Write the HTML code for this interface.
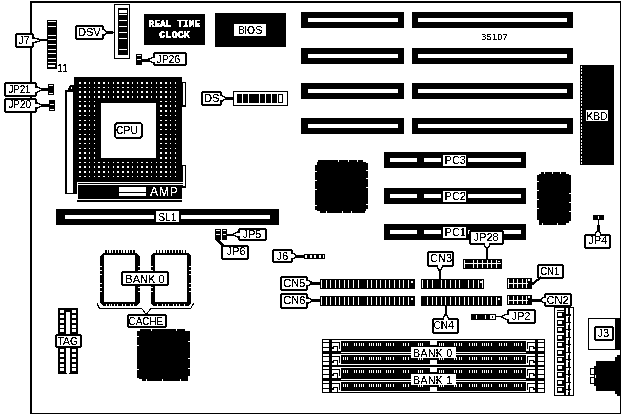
<!DOCTYPE html>
<html><head><meta charset="utf-8"><title>35107</title>
<style>
html,body{margin:0;padding:0;background:#fff;}
body{width:622px;height:415px;overflow:hidden;}
svg{display:block;font-family:"Liberation Sans",sans-serif;}
</style></head><body>
<svg width="622" height="415" viewBox="0 0 622 415" shape-rendering="crispEdges" >
<defs><filter id="t" filterUnits="userSpaceOnUse" x="0" y="0" width="622" height="415" color-interpolation-filters="sRGB"><feComponentTransfer><feFuncA type="discrete" tableValues="0 0 0 0 0 0 0 0 1 1 1 1 1 1 1 1 1 1 1 1"/></feComponentTransfer></filter><filter id="t2" filterUnits="userSpaceOnUse" x="0" y="0" width="622" height="415" color-interpolation-filters="sRGB"><feComponentTransfer><feFuncA type="discrete" tableValues="0 0 0 0 0 0 0 0 1 1 1 1 1 1 1 1 1 1 1 1"/></feComponentTransfer></filter></defs>
<rect x="30.00" y="1.00" width="591.00" height="413.00" fill="#000" />
<rect x="32.00" y="3.00" width="588.00" height="410.00" fill="#fff" />
<rect x="47.00" y="20.00" width="9.50" height="48.50" fill="#000" />
<rect x="48.20" y="21.00" width="7.30" height="1.00" fill="#fff" />
<rect x="48.20" y="25.60" width="7.30" height="1.00" fill="#fff" />
<rect x="48.20" y="34.80" width="7.30" height="1.00" fill="#fff" />
<rect x="48.20" y="39.40" width="7.30" height="1.00" fill="#fff" />
<rect x="48.20" y="44.00" width="7.30" height="1.00" fill="#fff" />
<rect x="48.20" y="48.60" width="7.30" height="1.00" fill="#fff" />
<rect x="48.20" y="53.20" width="7.30" height="1.00" fill="#fff" />
<rect x="48.20" y="57.80" width="7.30" height="1.00" fill="#fff" />
<rect x="48.20" y="62.40" width="7.30" height="1.00" fill="#fff" />
<rect x="48.30" y="64.60" width="7.00" height="2.60" fill="#fff" />
<rect x="48.30" y="65.60" width="4.70" height="0.60" fill="#000" />
<text x="57.50" y="72.00" font-size="10.5" text-anchor="start" fill="#000" textLength="10.00" lengthAdjust="spacingAndGlyphs" filter="url(#t2)" >11</text>
<rect x="15" y="33" width="19" height="15" rx="3" fill="#000"/>
<rect x="17" y="35" width="15" height="11" rx="1" fill="#fff"/>
<text x="18.25" y="44.00" font-size="11.1" text-anchor="start" fill="#000" filter="url(#t)" >J7</text>
<rect x="31.80" y="38.70" width="2.40" height="3.00" fill="#fff" />
<polyline points="33.40,38.00 34.40,38.00 41.00,39.80 41.00,40.60 34.40,42.40 33.40,42.40" fill="#fff" stroke="#000" stroke-width="1.4" stroke-linejoin="miter"/>
<line x1="39.80" y1="40.20" x2="47.50" y2="40.20" stroke="#000" stroke-width="1.7"/>
<rect x="4" y="82" width="33" height="15" rx="3" fill="#000"/>
<rect x="6" y="84" width="29" height="11" rx="1" fill="#fff"/>
<text x="8.40" y="93.00" font-size="11.1" text-anchor="start" fill="#000" textLength="22.00" lengthAdjust="spacingAndGlyphs" filter="url(#t2)" >JP21</text>
<rect x="4" y="98" width="33" height="15" rx="3" fill="#000"/>
<rect x="6" y="100" width="29" height="11" rx="1" fill="#fff"/>
<text x="8.40" y="108.00" font-size="11.1" text-anchor="start" fill="#000" textLength="22.50" lengthAdjust="spacingAndGlyphs" filter="url(#t2)" >JP20</text>
<rect x="34.80" y="87.70" width="2.40" height="3.80" fill="#fff" />
<polyline points="36.40,87.00 37.40,87.00 42.00,89.20 42.00,90.00 37.40,92.20 36.40,92.20" fill="#fff" stroke="#000" stroke-width="1.4" stroke-linejoin="miter"/>
<line x1="40.80" y1="89.60" x2="49.00" y2="89.60" stroke="#000" stroke-width="2.4"/>
<rect x="34.80" y="103.50" width="2.40" height="3.80" fill="#fff" />
<polyline points="36.40,102.80 37.40,102.80 42.00,105.00 42.00,105.80 37.40,108.00 36.40,108.00" fill="#fff" stroke="#000" stroke-width="1.4" stroke-linejoin="miter"/>
<line x1="40.80" y1="105.40" x2="50.00" y2="105.40" stroke="#000" stroke-width="2.4"/>
<rect x="48.00" y="84.00" width="6.00" height="11.40" fill="#000" />
<rect x="49.00" y="85.00" width="4.00" height="1.00" fill="#fff" />
<rect x="49.00" y="93.00" width="4.00" height="1.00" fill="#fff" />
<rect x="49.00" y="100.00" width="6.00" height="11.00" fill="#000" />
<rect x="50.00" y="104.00" width="4.00" height="1.00" fill="#fff" />
<rect x="50.00" y="109.00" width="4.00" height="1.00" fill="#fff" />
<rect x="114.00" y="4.00" width="16.00" height="55.00" fill="#000" />
<rect x="115.00" y="5.00" width="14.00" height="53.00" fill="#fff" />
<rect x="117.50" y="8.00" width="10.10" height="47.20" fill="#000" />
<rect x="119.00" y="10.00" width="7.60" height="3.00" fill="#fff" />
<rect x="118.50" y="14.00" width="8.10" height="1.00" fill="#fff" />
<rect x="118.50" y="20.00" width="8.10" height="1.00" fill="#fff" />
<rect x="118.50" y="26.00" width="8.10" height="1.00" fill="#fff" />
<rect x="118.50" y="32.00" width="8.10" height="1.00" fill="#fff" />
<rect x="118.50" y="38.00" width="8.10" height="1.00" fill="#fff" />
<rect x="118.50" y="49.00" width="8.10" height="1.00" fill="#fff" />
<rect x="75" y="25" width="29" height="15" rx="3" fill="#000"/>
<rect x="77" y="27" width="25" height="11" rx="1" fill="#fff"/>
<text x="77.90" y="36.00" font-size="11.1" text-anchor="start" fill="#000" filter="url(#t)" >DSV</text>
<rect x="101.80" y="30.40" width="2.40" height="3.80" fill="#fff" />
<polyline points="103.40,29.70 104.40,29.70 107.00,31.90 107.00,32.70 104.40,34.90 103.40,34.90" fill="#fff" stroke="#000" stroke-width="1.4" stroke-linejoin="miter"/>
<line x1="105.80" y1="32.30" x2="112.50" y2="32.30" stroke="#000" stroke-width="3.6"/>
<polygon points="112,30.5 114.5,32.3 112,34.1" fill="#000"/>
<rect x="144.30" y="14.00" width="60.70" height="30.60" fill="#000" />
<text x="174.40" y="27.00" font-size="10.5" text-anchor="middle" fill="#fff" font-weight="bold" filter="url(#t)" font-family="Liberation Mono, monospace" textLength="52" lengthAdjust="spacingAndGlyphs" stroke="#fff" stroke-width="0.22">REAL TIME</text>
<text x="174.60" y="38.00" font-size="10.5" text-anchor="middle" fill="#fff" font-weight="bold" filter="url(#t)" font-family="Liberation Mono, monospace" textLength="30.8" lengthAdjust="spacingAndGlyphs" stroke="#fff" stroke-width="0.22">CLOCK</text>
<rect x="136.00" y="54.00" width="6.00" height="11.00" fill="#000" />
<rect x="137.00" y="55.00" width="4.00" height="1.00" fill="#fff" />
<rect x="137.00" y="59.00" width="4.00" height="1.00" fill="#fff" />
<rect x="153" y="52" width="34" height="14" rx="3" fill="#000"/>
<rect x="155" y="54" width="30" height="10" rx="1" fill="#fff"/>
<text x="156.40" y="63.00" font-size="11.1" text-anchor="start" fill="#000" textLength="23.90" lengthAdjust="spacingAndGlyphs" filter="url(#t2)" >JP26</text>
<rect x="152.80" y="58.10" width="2.40" height="3.80" fill="#fff" />
<polyline points="153.60,57.40 152.60,57.40 147.60,59.60 147.60,60.40 152.60,62.60 153.60,62.60" fill="#fff" stroke="#000" stroke-width="1.4" stroke-linejoin="miter"/>
<line x1="148.80" y1="60.00" x2="141.00" y2="60.00" stroke="#000" stroke-width="3"/>
<rect x="214.80" y="13.00" width="71.20" height="33.80" fill="#000" />
<rect x="234.00" y="24.00" width="32.00" height="12.00" fill="#fff" />
<text x="238 244 246.9 255.5" y="34" font-size="10.3" fill="#000" filter="url(#t)">BIOS</text>
<rect x="301.00" y="12.00" width="103.00" height="16.00" fill="#000" />
<rect x="308.00" y="18.00" width="90.00" height="4.00" fill="#fff" />
<rect x="411.80" y="12.00" width="161.50" height="16.00" fill="#000" />
<rect x="417.80" y="18.00" width="149.20" height="4.00" fill="#fff" />
<rect x="301.00" y="48.00" width="103.00" height="16.00" fill="#000" />
<rect x="308.00" y="54.00" width="90.00" height="4.00" fill="#fff" />
<rect x="411.80" y="48.00" width="161.50" height="16.00" fill="#000" />
<rect x="417.80" y="54.00" width="149.20" height="4.00" fill="#fff" />
<rect x="301.00" y="83.00" width="103.00" height="16.00" fill="#000" />
<rect x="308.00" y="89.00" width="90.00" height="4.00" fill="#fff" />
<rect x="411.80" y="83.00" width="161.50" height="16.00" fill="#000" />
<rect x="417.80" y="89.00" width="149.20" height="4.00" fill="#fff" />
<rect x="301.00" y="118.00" width="103.00" height="16.00" fill="#000" />
<rect x="308.00" y="124.00" width="90.00" height="4.00" fill="#fff" />
<rect x="411.80" y="118.00" width="161.50" height="16.00" fill="#000" />
<rect x="417.80" y="124.00" width="149.20" height="4.00" fill="#fff" />
<text x="481.00" y="40.00" font-size="9.7" text-anchor="start" fill="#000" filter="url(#t)" >35107</text>
<rect x="579.50" y="64.70" width="34.70" height="100.40" fill="#000" />
<line x1="581.7" y1="66" x2="581.7" y2="164" stroke="#fff" stroke-width="1" stroke-dasharray="2,1.2"/>
<rect x="586.00" y="110.00" width="22.00" height="11.00" fill="#fff" />
<text x="586.50" y="120.00" font-size="11.1" text-anchor="start" fill="#000" textLength="21.00" lengthAdjust="spacingAndGlyphs" filter="url(#t2)" >KBD</text>
<rect x="384.00" y="152.00" width="142.00" height="16.00" fill="#000" />
<rect x="390.00" y="158.00" width="26.50" height="4.00" fill="#fff" />
<rect x="424.00" y="158.00" width="17.00" height="4.00" fill="#fff" />
<rect x="468.00" y="158.00" width="52.50" height="4.00" fill="#fff" />
<rect x="443.00" y="155.00" width="23.00" height="11.00" fill="#fff" />
<text x="444.60" y="164.00" font-size="11" text-anchor="start" fill="#000" filter="url(#t)" >PC3</text>
<rect x="384.00" y="188.00" width="142.00" height="16.00" fill="#000" />
<rect x="390.00" y="194.00" width="26.50" height="4.00" fill="#fff" />
<rect x="424.00" y="194.00" width="17.00" height="4.00" fill="#fff" />
<rect x="468.00" y="194.00" width="52.50" height="4.00" fill="#fff" />
<rect x="443.00" y="191.00" width="23.00" height="11.00" fill="#fff" />
<text x="444.60" y="200.00" font-size="11" text-anchor="start" fill="#000" filter="url(#t)" >PC2</text>
<rect x="384.00" y="224.00" width="142.00" height="16.00" fill="#000" />
<rect x="390.00" y="230.00" width="26.50" height="4.00" fill="#fff" />
<rect x="424.00" y="230.00" width="17.00" height="4.00" fill="#fff" />
<rect x="468.00" y="230.00" width="52.50" height="4.00" fill="#fff" />
<rect x="443.00" y="227.00" width="23.00" height="11.00" fill="#fff" />
<text x="444.60" y="236.00" font-size="11" text-anchor="start" fill="#000" filter="url(#t)" >PC1</text>
<rect x="317.40" y="162.10" width="48.50" height="48.50" fill="#000" />
<rect x="318.30" y="159.70" width="45.10" height="2.90" fill="#000" />
<rect x="320.00" y="210.10" width="45.00" height="2.90" fill="#000" />
<rect x="315.00" y="165.00" width="2.90" height="45.00" fill="#000" />
<rect x="365.40" y="162.70" width="2.90" height="45.90" fill="#000" />
<polygon points="317.4,165 318.3,162.1 318.4,163.1" fill="#000"/>
<rect x="338.00" y="159.70" width="1.00" height="2.00" fill="#fff" />
<rect x="348.00" y="159.70" width="1.00" height="2.00" fill="#fff" />
<rect x="357.00" y="159.70" width="1.00" height="2.00" fill="#fff" />
<rect x="326.00" y="211.00" width="1.00" height="2.00" fill="#fff" />
<rect x="342.00" y="211.00" width="1.00" height="2.00" fill="#fff" />
<rect x="351.00" y="211.00" width="1.00" height="2.00" fill="#fff" />
<rect x="315.00" y="171.00" width="2.00" height="1.00" fill="#fff" />
<rect x="315.00" y="180.00" width="2.00" height="1.00" fill="#fff" />
<rect x="315.00" y="189.00" width="2.00" height="1.00" fill="#fff" />
<rect x="315.00" y="205.00" width="2.00" height="1.00" fill="#fff" />
<rect x="366.30" y="170.00" width="2.00" height="1.00" fill="#fff" />
<rect x="366.30" y="178.00" width="2.00" height="1.00" fill="#fff" />
<rect x="366.30" y="187.00" width="2.00" height="1.00" fill="#fff" />
<rect x="366.30" y="204.00" width="2.00" height="1.00" fill="#fff" />
<rect x="539.40" y="174.10" width="29.30" height="48.50" fill="#000" />
<rect x="540.80" y="171.70" width="25.40" height="2.90" fill="#000" />
<rect x="539.10" y="222.10" width="27.10" height="2.90" fill="#000" />
<rect x="537.00" y="174.70" width="2.90" height="45.00" fill="#000" />
<rect x="568.20" y="174.70" width="2.90" height="46.70" fill="#000" />
<polygon points="539.4,174.7 540.8,174.1 540.4,175.1" fill="#000"/>
<rect x="544.00" y="171.70" width="1.00" height="2.00" fill="#fff" />
<rect x="552.00" y="171.70" width="1.00" height="2.00" fill="#fff" />
<rect x="560.00" y="171.70" width="1.00" height="2.00" fill="#fff" />
<rect x="542.00" y="223.00" width="1.00" height="2.00" fill="#fff" />
<rect x="557.00" y="223.00" width="1.00" height="2.00" fill="#fff" />
<rect x="537.00" y="181.00" width="2.00" height="1.00" fill="#fff" />
<rect x="537.00" y="190.00" width="2.00" height="1.00" fill="#fff" />
<rect x="537.00" y="199.00" width="2.00" height="1.00" fill="#fff" />
<rect x="537.00" y="208.00" width="2.00" height="1.00" fill="#fff" />
<rect x="569.10" y="193.00" width="2.00" height="1.00" fill="#fff" />
<rect x="569.10" y="202.00" width="2.00" height="1.00" fill="#fff" />
<rect x="569.10" y="211.00" width="2.00" height="1.00" fill="#fff" />
<rect x="569.10" y="221.00" width="2.00" height="1.00" fill="#fff" />
<rect x="139.40" y="330.90" width="48.50" height="47.70" fill="#000" />
<rect x="140.30" y="328.50" width="45.10" height="2.90" fill="#000" />
<rect x="142.00" y="378.10" width="45.80" height="2.90" fill="#000" />
<rect x="137.00" y="331.00" width="2.90" height="47.00" fill="#000" />
<rect x="187.40" y="331.00" width="2.90" height="44.70" fill="#000" />
<polygon points="139.4,331 140.3,330.9 140.4,331.9" fill="#000"/>
<rect x="151.00" y="328.50" width="1.00" height="2.00" fill="#fff" />
<rect x="176.00" y="328.50" width="1.00" height="2.00" fill="#fff" />
<rect x="185.00" y="328.50" width="1.00" height="2.00" fill="#fff" />
<rect x="146.00" y="379.00" width="1.00" height="2.00" fill="#fff" />
<rect x="162.00" y="379.00" width="1.00" height="2.00" fill="#fff" />
<rect x="180.00" y="379.00" width="1.00" height="2.00" fill="#fff" />
<rect x="137.00" y="336.00" width="2.00" height="1.00" fill="#fff" />
<rect x="137.00" y="345.00" width="2.00" height="1.00" fill="#fff" />
<rect x="137.00" y="369.00" width="2.00" height="1.00" fill="#fff" />
<rect x="188.30" y="341.00" width="2.00" height="1.00" fill="#fff" />
<rect x="188.30" y="358.00" width="2.00" height="1.00" fill="#fff" />
<rect x="188.30" y="368.00" width="2.00" height="1.00" fill="#fff" />
<rect x="593.00" y="215.00" width="11.00" height="5.00" fill="#000" />
<rect x="598.00" y="216.00" width="1.00" height="3.00" fill="#fff" />
<rect x="584" y="234" width="27" height="15" rx="3" fill="#000"/>
<rect x="586" y="236" width="23" height="11" rx="1" fill="#fff"/>
<text x="588.30" y="244.00" font-size="11.1" text-anchor="start" fill="#000" filter="url(#t)" >JP4</text>
<rect x="596.20" y="233.80" width="3.60" height="2.40" fill="#fff" />
<polyline points="595.50,234.60 595.50,233.60 597.60,231.00 598.40,231.00 600.50,233.60 600.50,234.60" fill="#fff" stroke="#000" stroke-width="1.4" stroke-linejoin="miter"/>
<line x1="598.00" y1="232.20" x2="598.00" y2="225.00" stroke="#000" stroke-width="3"/>
<rect x="598.00" y="219.50" width="1.20" height="6.50" fill="#000" />
<rect x="65.00" y="90.00" width="12.00" height="104.00" fill="#000" />
<rect x="67.00" y="92.00" width="6.00" height="101.00" fill="#fff" />
<polygon points="67.5,90 70,85 73.5,85 73.5,90" fill="#000"/>
<rect x="71.00" y="86.60" width="1.20" height="2.00" fill="#fff" />
<rect x="74.00" y="77.00" width="108.00" height="105.00" fill="#000" />
<g fill="#fff">
<rect x="79.30" y="82.00" width="1.5" height="1.5"/>
<rect x="84.07" y="82.00" width="1.5" height="1.5"/>
<rect x="88.84" y="82.00" width="1.5" height="1.5"/>
<rect x="93.61" y="82.00" width="1.5" height="1.5"/>
<rect x="98.38" y="82.00" width="1.5" height="1.5"/>
<rect x="103.15" y="82.00" width="1.5" height="1.5"/>
<rect x="107.92" y="82.00" width="1.5" height="1.5"/>
<rect x="112.69" y="82.00" width="1.5" height="1.5"/>
<rect x="117.46" y="82.00" width="1.5" height="1.5"/>
<rect x="122.23" y="82.00" width="1.5" height="1.5"/>
<rect x="127.00" y="82.00" width="1.5" height="1.5"/>
<rect x="131.77" y="82.00" width="1.5" height="1.5"/>
<rect x="136.54" y="82.00" width="1.5" height="1.5"/>
<rect x="141.31" y="82.00" width="1.5" height="1.5"/>
<rect x="146.08" y="82.00" width="1.5" height="1.5"/>
<rect x="150.85" y="82.00" width="1.5" height="1.5"/>
<rect x="155.62" y="82.00" width="1.5" height="1.5"/>
<rect x="160.39" y="82.00" width="1.5" height="1.5"/>
<rect x="165.16" y="82.00" width="1.5" height="1.5"/>
<rect x="169.93" y="82.00" width="1.5" height="1.5"/>
<rect x="174.70" y="82.00" width="1.5" height="1.5"/>
<rect x="79.30" y="86.69" width="1.5" height="1.5"/>
<rect x="84.07" y="86.69" width="1.5" height="1.5"/>
<rect x="88.84" y="86.69" width="1.5" height="1.5"/>
<rect x="93.61" y="86.69" width="1.5" height="1.5"/>
<rect x="98.38" y="86.69" width="1.5" height="1.5"/>
<rect x="103.15" y="86.69" width="1.5" height="1.5"/>
<rect x="107.92" y="86.69" width="1.5" height="1.5"/>
<rect x="112.69" y="86.69" width="1.5" height="1.5"/>
<rect x="117.46" y="86.69" width="1.5" height="1.5"/>
<rect x="122.23" y="86.69" width="1.5" height="1.5"/>
<rect x="127.00" y="86.69" width="1.5" height="1.5"/>
<rect x="131.77" y="86.69" width="1.5" height="1.5"/>
<rect x="136.54" y="86.69" width="1.5" height="1.5"/>
<rect x="141.31" y="86.69" width="1.5" height="1.5"/>
<rect x="146.08" y="86.69" width="1.5" height="1.5"/>
<rect x="150.85" y="86.69" width="1.5" height="1.5"/>
<rect x="155.62" y="86.69" width="1.5" height="1.5"/>
<rect x="160.39" y="86.69" width="1.5" height="1.5"/>
<rect x="165.16" y="86.69" width="1.5" height="1.5"/>
<rect x="169.93" y="86.69" width="1.5" height="1.5"/>
<rect x="174.70" y="86.69" width="1.5" height="1.5"/>
<rect x="79.30" y="91.38" width="1.5" height="1.5"/>
<rect x="84.07" y="91.38" width="1.5" height="1.5"/>
<rect x="88.84" y="91.38" width="1.5" height="1.5"/>
<rect x="93.61" y="91.38" width="1.5" height="1.5"/>
<rect x="98.38" y="91.38" width="1.5" height="1.5"/>
<rect x="103.15" y="91.38" width="1.5" height="1.5"/>
<rect x="107.92" y="91.38" width="1.5" height="1.5"/>
<rect x="112.69" y="91.38" width="1.5" height="1.5"/>
<rect x="117.46" y="91.38" width="1.5" height="1.5"/>
<rect x="122.23" y="91.38" width="1.5" height="1.5"/>
<rect x="127.00" y="91.38" width="1.5" height="1.5"/>
<rect x="131.77" y="91.38" width="1.5" height="1.5"/>
<rect x="136.54" y="91.38" width="1.5" height="1.5"/>
<rect x="141.31" y="91.38" width="1.5" height="1.5"/>
<rect x="146.08" y="91.38" width="1.5" height="1.5"/>
<rect x="150.85" y="91.38" width="1.5" height="1.5"/>
<rect x="155.62" y="91.38" width="1.5" height="1.5"/>
<rect x="160.39" y="91.38" width="1.5" height="1.5"/>
<rect x="165.16" y="91.38" width="1.5" height="1.5"/>
<rect x="169.93" y="91.38" width="1.5" height="1.5"/>
<rect x="174.70" y="91.38" width="1.5" height="1.5"/>
<rect x="79.30" y="96.07" width="1.5" height="1.5"/>
<rect x="84.07" y="96.07" width="1.5" height="1.5"/>
<rect x="88.84" y="96.07" width="1.5" height="1.5"/>
<rect x="93.61" y="96.07" width="1.5" height="1.5"/>
<rect x="98.38" y="96.07" width="1.5" height="1.5"/>
<rect x="103.15" y="96.07" width="1.5" height="1.5"/>
<rect x="107.92" y="96.07" width="1.5" height="1.5"/>
<rect x="112.69" y="96.07" width="1.5" height="1.5"/>
<rect x="117.46" y="96.07" width="1.5" height="1.5"/>
<rect x="122.23" y="96.07" width="1.5" height="1.5"/>
<rect x="127.00" y="96.07" width="1.5" height="1.5"/>
<rect x="131.77" y="96.07" width="1.5" height="1.5"/>
<rect x="136.54" y="96.07" width="1.5" height="1.5"/>
<rect x="141.31" y="96.07" width="1.5" height="1.5"/>
<rect x="146.08" y="96.07" width="1.5" height="1.5"/>
<rect x="150.85" y="96.07" width="1.5" height="1.5"/>
<rect x="155.62" y="96.07" width="1.5" height="1.5"/>
<rect x="160.39" y="96.07" width="1.5" height="1.5"/>
<rect x="165.16" y="96.07" width="1.5" height="1.5"/>
<rect x="169.93" y="96.07" width="1.5" height="1.5"/>
<rect x="174.70" y="96.07" width="1.5" height="1.5"/>
<rect x="79.30" y="100.76" width="1.5" height="1.5"/>
<rect x="84.07" y="100.76" width="1.5" height="1.5"/>
<rect x="88.84" y="100.76" width="1.5" height="1.5"/>
<rect x="93.61" y="100.76" width="1.5" height="1.5"/>
<rect x="160.39" y="100.76" width="1.5" height="1.5"/>
<rect x="165.16" y="100.76" width="1.5" height="1.5"/>
<rect x="169.93" y="100.76" width="1.5" height="1.5"/>
<rect x="174.70" y="100.76" width="1.5" height="1.5"/>
<rect x="79.30" y="105.45" width="1.5" height="1.5"/>
<rect x="84.07" y="105.45" width="1.5" height="1.5"/>
<rect x="88.84" y="105.45" width="1.5" height="1.5"/>
<rect x="93.61" y="105.45" width="1.5" height="1.5"/>
<rect x="160.39" y="105.45" width="1.5" height="1.5"/>
<rect x="165.16" y="105.45" width="1.5" height="1.5"/>
<rect x="169.93" y="105.45" width="1.5" height="1.5"/>
<rect x="174.70" y="105.45" width="1.5" height="1.5"/>
<rect x="79.30" y="110.14" width="1.5" height="1.5"/>
<rect x="84.07" y="110.14" width="1.5" height="1.5"/>
<rect x="88.84" y="110.14" width="1.5" height="1.5"/>
<rect x="93.61" y="110.14" width="1.5" height="1.5"/>
<rect x="160.39" y="110.14" width="1.5" height="1.5"/>
<rect x="165.16" y="110.14" width="1.5" height="1.5"/>
<rect x="169.93" y="110.14" width="1.5" height="1.5"/>
<rect x="174.70" y="110.14" width="1.5" height="1.5"/>
<rect x="79.30" y="114.83" width="1.5" height="1.5"/>
<rect x="84.07" y="114.83" width="1.5" height="1.5"/>
<rect x="88.84" y="114.83" width="1.5" height="1.5"/>
<rect x="93.61" y="114.83" width="1.5" height="1.5"/>
<rect x="160.39" y="114.83" width="1.5" height="1.5"/>
<rect x="165.16" y="114.83" width="1.5" height="1.5"/>
<rect x="169.93" y="114.83" width="1.5" height="1.5"/>
<rect x="174.70" y="114.83" width="1.5" height="1.5"/>
<rect x="79.30" y="119.52" width="1.5" height="1.5"/>
<rect x="84.07" y="119.52" width="1.5" height="1.5"/>
<rect x="88.84" y="119.52" width="1.5" height="1.5"/>
<rect x="93.61" y="119.52" width="1.5" height="1.5"/>
<rect x="160.39" y="119.52" width="1.5" height="1.5"/>
<rect x="165.16" y="119.52" width="1.5" height="1.5"/>
<rect x="169.93" y="119.52" width="1.5" height="1.5"/>
<rect x="174.70" y="119.52" width="1.5" height="1.5"/>
<rect x="79.30" y="124.21" width="1.5" height="1.5"/>
<rect x="84.07" y="124.21" width="1.5" height="1.5"/>
<rect x="88.84" y="124.21" width="1.5" height="1.5"/>
<rect x="93.61" y="124.21" width="1.5" height="1.5"/>
<rect x="160.39" y="124.21" width="1.5" height="1.5"/>
<rect x="165.16" y="124.21" width="1.5" height="1.5"/>
<rect x="169.93" y="124.21" width="1.5" height="1.5"/>
<rect x="174.70" y="124.21" width="1.5" height="1.5"/>
<rect x="79.30" y="128.90" width="1.5" height="1.5"/>
<rect x="84.07" y="128.90" width="1.5" height="1.5"/>
<rect x="88.84" y="128.90" width="1.5" height="1.5"/>
<rect x="93.61" y="128.90" width="1.5" height="1.5"/>
<rect x="160.39" y="128.90" width="1.5" height="1.5"/>
<rect x="165.16" y="128.90" width="1.5" height="1.5"/>
<rect x="169.93" y="128.90" width="1.5" height="1.5"/>
<rect x="174.70" y="128.90" width="1.5" height="1.5"/>
<rect x="79.30" y="133.59" width="1.5" height="1.5"/>
<rect x="84.07" y="133.59" width="1.5" height="1.5"/>
<rect x="88.84" y="133.59" width="1.5" height="1.5"/>
<rect x="93.61" y="133.59" width="1.5" height="1.5"/>
<rect x="160.39" y="133.59" width="1.5" height="1.5"/>
<rect x="165.16" y="133.59" width="1.5" height="1.5"/>
<rect x="169.93" y="133.59" width="1.5" height="1.5"/>
<rect x="174.70" y="133.59" width="1.5" height="1.5"/>
<rect x="79.30" y="138.28" width="1.5" height="1.5"/>
<rect x="84.07" y="138.28" width="1.5" height="1.5"/>
<rect x="88.84" y="138.28" width="1.5" height="1.5"/>
<rect x="93.61" y="138.28" width="1.5" height="1.5"/>
<rect x="160.39" y="138.28" width="1.5" height="1.5"/>
<rect x="165.16" y="138.28" width="1.5" height="1.5"/>
<rect x="169.93" y="138.28" width="1.5" height="1.5"/>
<rect x="174.70" y="138.28" width="1.5" height="1.5"/>
<rect x="79.30" y="142.97" width="1.5" height="1.5"/>
<rect x="84.07" y="142.97" width="1.5" height="1.5"/>
<rect x="88.84" y="142.97" width="1.5" height="1.5"/>
<rect x="93.61" y="142.97" width="1.5" height="1.5"/>
<rect x="160.39" y="142.97" width="1.5" height="1.5"/>
<rect x="165.16" y="142.97" width="1.5" height="1.5"/>
<rect x="169.93" y="142.97" width="1.5" height="1.5"/>
<rect x="174.70" y="142.97" width="1.5" height="1.5"/>
<rect x="79.30" y="147.66" width="1.5" height="1.5"/>
<rect x="84.07" y="147.66" width="1.5" height="1.5"/>
<rect x="88.84" y="147.66" width="1.5" height="1.5"/>
<rect x="93.61" y="147.66" width="1.5" height="1.5"/>
<rect x="160.39" y="147.66" width="1.5" height="1.5"/>
<rect x="165.16" y="147.66" width="1.5" height="1.5"/>
<rect x="169.93" y="147.66" width="1.5" height="1.5"/>
<rect x="174.70" y="147.66" width="1.5" height="1.5"/>
<rect x="79.30" y="152.35" width="1.5" height="1.5"/>
<rect x="84.07" y="152.35" width="1.5" height="1.5"/>
<rect x="88.84" y="152.35" width="1.5" height="1.5"/>
<rect x="93.61" y="152.35" width="1.5" height="1.5"/>
<rect x="160.39" y="152.35" width="1.5" height="1.5"/>
<rect x="165.16" y="152.35" width="1.5" height="1.5"/>
<rect x="169.93" y="152.35" width="1.5" height="1.5"/>
<rect x="174.70" y="152.35" width="1.5" height="1.5"/>
<rect x="79.30" y="157.04" width="1.5" height="1.5"/>
<rect x="84.07" y="157.04" width="1.5" height="1.5"/>
<rect x="88.84" y="157.04" width="1.5" height="1.5"/>
<rect x="93.61" y="157.04" width="1.5" height="1.5"/>
<rect x="160.39" y="157.04" width="1.5" height="1.5"/>
<rect x="165.16" y="157.04" width="1.5" height="1.5"/>
<rect x="169.93" y="157.04" width="1.5" height="1.5"/>
<rect x="174.70" y="157.04" width="1.5" height="1.5"/>
<rect x="79.30" y="161.73" width="1.5" height="1.5"/>
<rect x="84.07" y="161.73" width="1.5" height="1.5"/>
<rect x="88.84" y="161.73" width="1.5" height="1.5"/>
<rect x="93.61" y="161.73" width="1.5" height="1.5"/>
<rect x="98.38" y="161.73" width="1.5" height="1.5"/>
<rect x="103.15" y="161.73" width="1.5" height="1.5"/>
<rect x="107.92" y="161.73" width="1.5" height="1.5"/>
<rect x="112.69" y="161.73" width="1.5" height="1.5"/>
<rect x="117.46" y="161.73" width="1.5" height="1.5"/>
<rect x="122.23" y="161.73" width="1.5" height="1.5"/>
<rect x="127.00" y="161.73" width="1.5" height="1.5"/>
<rect x="131.77" y="161.73" width="1.5" height="1.5"/>
<rect x="136.54" y="161.73" width="1.5" height="1.5"/>
<rect x="141.31" y="161.73" width="1.5" height="1.5"/>
<rect x="146.08" y="161.73" width="1.5" height="1.5"/>
<rect x="150.85" y="161.73" width="1.5" height="1.5"/>
<rect x="155.62" y="161.73" width="1.5" height="1.5"/>
<rect x="160.39" y="161.73" width="1.5" height="1.5"/>
<rect x="165.16" y="161.73" width="1.5" height="1.5"/>
<rect x="169.93" y="161.73" width="1.5" height="1.5"/>
<rect x="174.70" y="161.73" width="1.5" height="1.5"/>
<rect x="79.30" y="166.42" width="1.5" height="1.5"/>
<rect x="84.07" y="166.42" width="1.5" height="1.5"/>
<rect x="88.84" y="166.42" width="1.5" height="1.5"/>
<rect x="93.61" y="166.42" width="1.5" height="1.5"/>
<rect x="98.38" y="166.42" width="1.5" height="1.5"/>
<rect x="103.15" y="166.42" width="1.5" height="1.5"/>
<rect x="107.92" y="166.42" width="1.5" height="1.5"/>
<rect x="112.69" y="166.42" width="1.5" height="1.5"/>
<rect x="117.46" y="166.42" width="1.5" height="1.5"/>
<rect x="122.23" y="166.42" width="1.5" height="1.5"/>
<rect x="127.00" y="166.42" width="1.5" height="1.5"/>
<rect x="131.77" y="166.42" width="1.5" height="1.5"/>
<rect x="136.54" y="166.42" width="1.5" height="1.5"/>
<rect x="141.31" y="166.42" width="1.5" height="1.5"/>
<rect x="146.08" y="166.42" width="1.5" height="1.5"/>
<rect x="150.85" y="166.42" width="1.5" height="1.5"/>
<rect x="155.62" y="166.42" width="1.5" height="1.5"/>
<rect x="160.39" y="166.42" width="1.5" height="1.5"/>
<rect x="165.16" y="166.42" width="1.5" height="1.5"/>
<rect x="169.93" y="166.42" width="1.5" height="1.5"/>
<rect x="174.70" y="166.42" width="1.5" height="1.5"/>
<rect x="79.30" y="171.11" width="1.5" height="1.5"/>
<rect x="84.07" y="171.11" width="1.5" height="1.5"/>
<rect x="88.84" y="171.11" width="1.5" height="1.5"/>
<rect x="93.61" y="171.11" width="1.5" height="1.5"/>
<rect x="98.38" y="171.11" width="1.5" height="1.5"/>
<rect x="103.15" y="171.11" width="1.5" height="1.5"/>
<rect x="107.92" y="171.11" width="1.5" height="1.5"/>
<rect x="112.69" y="171.11" width="1.5" height="1.5"/>
<rect x="117.46" y="171.11" width="1.5" height="1.5"/>
<rect x="122.23" y="171.11" width="1.5" height="1.5"/>
<rect x="127.00" y="171.11" width="1.5" height="1.5"/>
<rect x="131.77" y="171.11" width="1.5" height="1.5"/>
<rect x="136.54" y="171.11" width="1.5" height="1.5"/>
<rect x="141.31" y="171.11" width="1.5" height="1.5"/>
<rect x="146.08" y="171.11" width="1.5" height="1.5"/>
<rect x="150.85" y="171.11" width="1.5" height="1.5"/>
<rect x="155.62" y="171.11" width="1.5" height="1.5"/>
<rect x="160.39" y="171.11" width="1.5" height="1.5"/>
<rect x="165.16" y="171.11" width="1.5" height="1.5"/>
<rect x="169.93" y="171.11" width="1.5" height="1.5"/>
<rect x="174.70" y="171.11" width="1.5" height="1.5"/>
<rect x="79.30" y="175.80" width="1.5" height="1.5"/>
<rect x="84.07" y="175.80" width="1.5" height="1.5"/>
<rect x="88.84" y="175.80" width="1.5" height="1.5"/>
<rect x="93.61" y="175.80" width="1.5" height="1.5"/>
<rect x="98.38" y="175.80" width="1.5" height="1.5"/>
<rect x="103.15" y="175.80" width="1.5" height="1.5"/>
<rect x="107.92" y="175.80" width="1.5" height="1.5"/>
<rect x="112.69" y="175.80" width="1.5" height="1.5"/>
<rect x="117.46" y="175.80" width="1.5" height="1.5"/>
<rect x="122.23" y="175.80" width="1.5" height="1.5"/>
<rect x="127.00" y="175.80" width="1.5" height="1.5"/>
<rect x="131.77" y="175.80" width="1.5" height="1.5"/>
<rect x="136.54" y="175.80" width="1.5" height="1.5"/>
<rect x="141.31" y="175.80" width="1.5" height="1.5"/>
<rect x="146.08" y="175.80" width="1.5" height="1.5"/>
<rect x="150.85" y="175.80" width="1.5" height="1.5"/>
<rect x="155.62" y="175.80" width="1.5" height="1.5"/>
<rect x="160.39" y="175.80" width="1.5" height="1.5"/>
<rect x="165.16" y="175.80" width="1.5" height="1.5"/>
<rect x="169.93" y="175.80" width="1.5" height="1.5"/>
<rect x="174.70" y="175.80" width="1.5" height="1.5"/>
</g>
<rect x="101.00" y="103.00" width="55.00" height="55.00" fill="#fff" />
<rect x="182" y="82.5" width="3.4" height="23.5" fill="#fff" stroke="#000" stroke-width="1.2"/>
<rect x="182" y="165.5" width="3.4" height="21.5" fill="#fff" stroke="#000" stroke-width="1.2"/>
<rect x="77.00" y="182.00" width="105.00" height="20.00" fill="#000" />
<rect x="77.00" y="182.00" width="106.00" height="1.00" fill="#fff" />
<rect x="77.00" y="184.00" width="106.00" height="1.00" fill="#fff" />
<rect x="77.00" y="182.00" width="1.00" height="18.00" fill="#fff" />
<rect x="77.00" y="199.00" width="105.00" height="1.00" fill="#fff" />
<rect x="119.00" y="187.30" width="27.00" height="9.00" fill="#fff" />
<rect x="119.00" y="192.00" width="27.00" height="1.40" fill="#000" />
<text x="150.00" y="196.00" font-size="12.3" text-anchor="start" fill="#fff" textLength="28.00" lengthAdjust="spacing" filter="url(#t)" >AMP</text>
<rect x="114" y="122" width="29" height="17" rx="4" fill="#000"/>
<rect x="116" y="124" width="25" height="13" rx="2" fill="#fff"/>
<text x="116.00" y="134.00" font-size="11.1" text-anchor="start" fill="#000" textLength="21.90" lengthAdjust="spacingAndGlyphs" filter="url(#t2)" >CPU</text>
<rect x="233.00" y="91.00" width="55.00" height="15.00" fill="#000" />
<rect x="234.00" y="92.00" width="53.00" height="13.00" fill="#fff" />
<rect x="237.00" y="94.00" width="46.00" height="9.00" fill="#000" />
<rect x="242.00" y="94.00" width="1.00" height="9.00" fill="#fff" />
<rect x="248.00" y="94.00" width="1.00" height="9.00" fill="#fff" />
<rect x="259.40" y="94.00" width="1.00" height="9.00" fill="#fff" />
<rect x="265.30" y="94.00" width="1.00" height="9.00" fill="#fff" />
<rect x="271.00" y="94.00" width="1.00" height="9.00" fill="#fff" />
<rect x="277.00" y="94.00" width="1.00" height="9.00" fill="#fff" />
<rect x="279.40" y="95.00" width="2.60" height="6.60" fill="#fff" />
<rect x="201" y="91" width="21" height="15" rx="3" fill="#000"/>
<rect x="203" y="93" width="17" height="11" rx="1" fill="#fff"/>
<text x="204.10" y="102.00" font-size="11.1" text-anchor="start" fill="#000" filter="url(#t)" >DS</text>
<rect x="219.80" y="96.40" width="2.40" height="3.80" fill="#fff" />
<polyline points="221.40,95.70 222.40,95.70 226.00,97.90 226.00,98.70 222.40,100.90 221.40,100.90" fill="#fff" stroke="#000" stroke-width="1.4" stroke-linejoin="miter"/>
<line x1="224.80" y1="98.30" x2="233.50" y2="98.30" stroke="#000" stroke-width="2.4"/>
<rect x="56.00" y="209.00" width="223.00" height="16.00" fill="#000" />
<rect x="65.00" y="215.00" width="89.00" height="4.00" fill="#fff" />
<rect x="181.00" y="215.00" width="89.00" height="4.00" fill="#fff" />
<rect x="156.00" y="211.00" width="23.00" height="11.00" fill="#fff" />
<text x="158.20" y="221.00" font-size="11.5" text-anchor="start" fill="#000" textLength="18.30" lengthAdjust="spacingAndGlyphs" filter="url(#t2)" >SL1</text>
<rect x="215.00" y="229.00" width="6.00" height="11.00" fill="#000" />
<rect x="222.00" y="229.00" width="5.00" height="11.00" fill="#000" />
<rect x="216.00" y="230.00" width="4.00" height="1.00" fill="#fff" />
<rect x="216.00" y="234.00" width="4.00" height="1.00" fill="#fff" />
<rect x="223.00" y="230.00" width="3.00" height="1.00" fill="#fff" />
<rect x="223.00" y="234.00" width="3.00" height="1.00" fill="#fff" />
<rect x="238" y="228" width="29" height="13" rx="3" fill="#000"/>
<rect x="240" y="230" width="25" height="9" rx="1" fill="#fff"/>
<text x="242.40" y="238.00" font-size="11.1" text-anchor="start" fill="#000" filter="url(#t)" >JP5</text>
<rect x="237.80" y="232.60" width="2.40" height="3.80" fill="#fff" />
<polyline points="238.60,231.90 237.60,231.90 233.00,234.10 233.00,234.90 237.60,237.10 238.60,237.10" fill="#fff" stroke="#000" stroke-width="1.4" stroke-linejoin="miter"/>
<line x1="234.20" y1="234.50" x2="226.50" y2="234.50" stroke="#000" stroke-width="2"/>
<rect x="221" y="245" width="28" height="15" rx="3" fill="#000"/>
<rect x="223" y="247" width="24" height="11" rx="1" fill="#fff"/>
<text x="226.50" y="255.00" font-size="11.1" text-anchor="start" fill="#000" filter="url(#t)" >JP6</text>
<path d="M217,239 L223.8,246.4" fill="none" stroke="#000" stroke-width="2.8"/>
<rect x="272" y="249" width="21" height="14" rx="3" fill="#000"/>
<rect x="274" y="251" width="17" height="10" rx="1" fill="#fff"/>
<text x="276.50" y="260.00" font-size="11.1" text-anchor="start" fill="#000" filter="url(#t)" >J6</text>
<rect x="290.80" y="254.10" width="2.40" height="3.80" fill="#fff" />
<polyline points="292.40,253.40 293.40,253.40 296.40,255.60 296.40,256.40 293.40,258.60 292.40,258.60" fill="#fff" stroke="#000" stroke-width="1.4" stroke-linejoin="miter"/>
<line x1="295.20" y1="256.00" x2="304.50" y2="256.50" stroke="#000" stroke-width="3"/>
<rect x="304.00" y="254.00" width="21.00" height="5.00" fill="#000" />
<rect x="305.00" y="255.00" width="2.00" height="3.00" fill="#fff" />
<rect x="310.00" y="255.00" width="2.00" height="3.00" fill="#fff" />
<rect x="314.00" y="255.00" width="2.00" height="3.00" fill="#fff" />
<rect x="319.00" y="255.00" width="2.00" height="3.00" fill="#fff" />
<rect x="323.00" y="255.00" width="1.00" height="3.00" fill="#fff" />
<rect x="320.00" y="279.00" width="95.00" height="10.00" fill="#000" />
<rect x="321.00" y="280.00" width="1.00" height="8.00" fill="#fff" />
<rect x="326.00" y="280.00" width="1.00" height="8.00" fill="#fff" />
<rect x="330.00" y="280.00" width="1.00" height="8.00" fill="#fff" />
<rect x="335.00" y="280.00" width="1.00" height="8.00" fill="#fff" />
<rect x="339.00" y="280.00" width="1.00" height="8.00" fill="#fff" />
<rect x="344.00" y="280.00" width="1.00" height="8.00" fill="#fff" />
<rect x="348.00" y="280.00" width="1.00" height="8.00" fill="#fff" />
<rect x="353.00" y="280.00" width="1.00" height="8.00" fill="#fff" />
<rect x="358.00" y="280.00" width="1.00" height="8.00" fill="#fff" />
<rect x="367.00" y="280.00" width="1.00" height="8.00" fill="#fff" />
<rect x="371.00" y="280.00" width="1.00" height="8.00" fill="#fff" />
<rect x="376.00" y="280.00" width="1.00" height="8.00" fill="#fff" />
<rect x="380.00" y="280.00" width="1.00" height="8.00" fill="#fff" />
<rect x="385.00" y="280.00" width="1.00" height="8.00" fill="#fff" />
<rect x="389.00" y="280.00" width="1.00" height="8.00" fill="#fff" />
<rect x="394.00" y="280.00" width="1.00" height="8.00" fill="#fff" />
<rect x="399.00" y="280.00" width="1.00" height="8.00" fill="#fff" />
<rect x="403.00" y="280.00" width="1.00" height="8.00" fill="#fff" />
<rect x="408.00" y="280.00" width="1.00" height="8.00" fill="#fff" />
<rect x="411.00" y="281.00" width="2.00" height="2.00" fill="#fff" />
<rect x="320.00" y="296.00" width="95.00" height="10.00" fill="#000" />
<rect x="321.00" y="297.00" width="1.00" height="8.00" fill="#fff" />
<rect x="326.00" y="297.00" width="1.00" height="8.00" fill="#fff" />
<rect x="330.00" y="297.00" width="1.00" height="8.00" fill="#fff" />
<rect x="335.00" y="297.00" width="1.00" height="8.00" fill="#fff" />
<rect x="339.00" y="297.00" width="1.00" height="8.00" fill="#fff" />
<rect x="344.00" y="297.00" width="1.00" height="8.00" fill="#fff" />
<rect x="348.00" y="297.00" width="1.00" height="8.00" fill="#fff" />
<rect x="353.00" y="297.00" width="1.00" height="8.00" fill="#fff" />
<rect x="358.00" y="297.00" width="1.00" height="8.00" fill="#fff" />
<rect x="367.00" y="297.00" width="1.00" height="8.00" fill="#fff" />
<rect x="371.00" y="297.00" width="1.00" height="8.00" fill="#fff" />
<rect x="376.00" y="297.00" width="1.00" height="8.00" fill="#fff" />
<rect x="380.00" y="297.00" width="1.00" height="8.00" fill="#fff" />
<rect x="385.00" y="297.00" width="1.00" height="8.00" fill="#fff" />
<rect x="389.00" y="297.00" width="1.00" height="8.00" fill="#fff" />
<rect x="394.00" y="297.00" width="1.00" height="8.00" fill="#fff" />
<rect x="399.00" y="297.00" width="1.00" height="8.00" fill="#fff" />
<rect x="403.00" y="297.00" width="1.00" height="8.00" fill="#fff" />
<rect x="408.00" y="297.00" width="1.00" height="8.00" fill="#fff" />
<rect x="411.00" y="298.00" width="2.00" height="2.00" fill="#fff" />
<rect x="280" y="276" width="28" height="15" rx="3" fill="#000"/>
<rect x="282" y="278" width="24" height="11" rx="1" fill="#fff"/>
<text x="283.30" y="287.00" font-size="11.1" text-anchor="start" fill="#000" filter="url(#t)" >CN5</text>
<rect x="305.80" y="281.10" width="2.40" height="3.80" fill="#fff" />
<polyline points="307.40,280.40 308.40,280.40 312.00,282.60 312.00,283.40 308.40,285.60 307.40,285.60" fill="#fff" stroke="#000" stroke-width="1.4" stroke-linejoin="miter"/>
<line x1="310.80" y1="283.00" x2="320.50" y2="283.00" stroke="#000" stroke-width="3"/>
<rect x="280" y="293" width="28" height="16" rx="3" fill="#000"/>
<rect x="282" y="295" width="24" height="12" rx="1" fill="#fff"/>
<text x="283.30" y="304.00" font-size="11.1" text-anchor="start" fill="#000" filter="url(#t)" >CN6</text>
<rect x="305.80" y="298.60" width="2.40" height="3.80" fill="#fff" />
<polyline points="307.40,297.90 308.40,297.90 312.00,300.10 312.00,300.90 308.40,303.10 307.40,303.10" fill="#fff" stroke="#000" stroke-width="1.4" stroke-linejoin="miter"/>
<line x1="310.80" y1="300.50" x2="320.50" y2="300.50" stroke="#000" stroke-width="3"/>
<polygon points="103,253 136.8,253 139.8,256 139.8,303 136.8,306 103,306 100,303 100,256" fill="#000"/>
<rect x="105.00" y="250.00" width="1.50" height="3.20" fill="#000" />
<rect x="107.83" y="250.00" width="1.50" height="3.20" fill="#000" />
<rect x="110.66" y="250.00" width="1.50" height="3.20" fill="#000" />
<rect x="113.49" y="250.00" width="1.50" height="3.20" fill="#000" />
<rect x="116.32" y="250.00" width="1.50" height="3.20" fill="#000" />
<rect x="119.15" y="250.00" width="1.50" height="3.20" fill="#000" />
<rect x="121.98" y="250.00" width="1.50" height="3.20" fill="#000" />
<rect x="124.81" y="250.00" width="1.50" height="3.20" fill="#000" />
<rect x="127.64" y="250.00" width="1.50" height="3.20" fill="#000" />
<rect x="130.47" y="250.00" width="1.50" height="3.20" fill="#000" />
<rect x="133.30" y="250.00" width="1.50" height="3.20" fill="#000" />
<rect x="104.00" y="255.00" width="31.20" height="46.50" fill="#fff" />
<rect x="100.00" y="261.60" width="2.00" height="0.80" fill="#fff" />
<rect x="137.80" y="261.60" width="2.00" height="0.80" fill="#fff" />
<rect x="100.00" y="265.85" width="2.00" height="0.80" fill="#fff" />
<rect x="137.80" y="265.85" width="2.00" height="0.80" fill="#fff" />
<rect x="100.00" y="270.10" width="2.00" height="0.80" fill="#fff" />
<rect x="137.80" y="270.10" width="2.00" height="0.80" fill="#fff" />
<rect x="100.00" y="274.35" width="2.00" height="0.80" fill="#fff" />
<rect x="137.80" y="274.35" width="2.00" height="0.80" fill="#fff" />
<rect x="100.00" y="278.60" width="2.00" height="0.80" fill="#fff" />
<rect x="137.80" y="278.60" width="2.00" height="0.80" fill="#fff" />
<rect x="100.00" y="282.85" width="2.00" height="0.80" fill="#fff" />
<rect x="137.80" y="282.85" width="2.00" height="0.80" fill="#fff" />
<rect x="100.00" y="287.10" width="2.00" height="0.80" fill="#fff" />
<rect x="137.80" y="287.10" width="2.00" height="0.80" fill="#fff" />
<rect x="100.00" y="291.35" width="2.00" height="0.80" fill="#fff" />
<rect x="137.80" y="291.35" width="2.00" height="0.80" fill="#fff" />
<rect x="100.00" y="295.60" width="2.00" height="0.80" fill="#fff" />
<rect x="137.80" y="295.60" width="2.00" height="0.80" fill="#fff" />
<rect x="106.10" y="304.40" width="0.80" height="1.60" fill="#fff" />
<rect x="108.78" y="304.40" width="0.80" height="1.60" fill="#fff" />
<rect x="111.46" y="304.40" width="0.80" height="1.60" fill="#fff" />
<rect x="114.14" y="304.40" width="0.80" height="1.60" fill="#fff" />
<rect x="116.82" y="304.40" width="0.80" height="1.60" fill="#fff" />
<rect x="119.50" y="304.40" width="0.80" height="1.60" fill="#fff" />
<rect x="122.18" y="304.40" width="0.80" height="1.60" fill="#fff" />
<rect x="124.86" y="304.40" width="0.80" height="1.60" fill="#fff" />
<rect x="127.54" y="304.40" width="0.80" height="1.60" fill="#fff" />
<rect x="130.22" y="304.40" width="0.80" height="1.60" fill="#fff" />
<rect x="132.90" y="304.40" width="0.80" height="1.60" fill="#fff" />
<polygon points="153.8,253 188.3,253 191.3,256 191.3,303 188.3,306 153.8,306 150.8,303 150.8,256" fill="#000"/>
<rect x="155.80" y="250.00" width="1.50" height="3.20" fill="#000" />
<rect x="158.70" y="250.00" width="1.50" height="3.20" fill="#000" />
<rect x="161.60" y="250.00" width="1.50" height="3.20" fill="#000" />
<rect x="164.50" y="250.00" width="1.50" height="3.20" fill="#000" />
<rect x="167.40" y="250.00" width="1.50" height="3.20" fill="#000" />
<rect x="170.30" y="250.00" width="1.50" height="3.20" fill="#000" />
<rect x="173.20" y="250.00" width="1.50" height="3.20" fill="#000" />
<rect x="176.10" y="250.00" width="1.50" height="3.20" fill="#000" />
<rect x="179.00" y="250.00" width="1.50" height="3.20" fill="#000" />
<rect x="181.90" y="250.00" width="1.50" height="3.20" fill="#000" />
<rect x="184.80" y="250.00" width="1.50" height="3.20" fill="#000" />
<rect x="154.80" y="255.00" width="31.90" height="46.50" fill="#fff" />
<rect x="150.80" y="261.60" width="2.00" height="0.80" fill="#fff" />
<rect x="189.30" y="261.60" width="2.00" height="0.80" fill="#fff" />
<rect x="150.80" y="265.85" width="2.00" height="0.80" fill="#fff" />
<rect x="189.30" y="265.85" width="2.00" height="0.80" fill="#fff" />
<rect x="150.80" y="270.10" width="2.00" height="0.80" fill="#fff" />
<rect x="189.30" y="270.10" width="2.00" height="0.80" fill="#fff" />
<rect x="150.80" y="274.35" width="2.00" height="0.80" fill="#fff" />
<rect x="189.30" y="274.35" width="2.00" height="0.80" fill="#fff" />
<rect x="150.80" y="278.60" width="2.00" height="0.80" fill="#fff" />
<rect x="189.30" y="278.60" width="2.00" height="0.80" fill="#fff" />
<rect x="150.80" y="282.85" width="2.00" height="0.80" fill="#fff" />
<rect x="189.30" y="282.85" width="2.00" height="0.80" fill="#fff" />
<rect x="150.80" y="287.10" width="2.00" height="0.80" fill="#fff" />
<rect x="189.30" y="287.10" width="2.00" height="0.80" fill="#fff" />
<rect x="150.80" y="291.35" width="2.00" height="0.80" fill="#fff" />
<rect x="189.30" y="291.35" width="2.00" height="0.80" fill="#fff" />
<rect x="150.80" y="295.60" width="2.00" height="0.80" fill="#fff" />
<rect x="189.30" y="295.60" width="2.00" height="0.80" fill="#fff" />
<rect x="156.90" y="304.40" width="0.80" height="1.60" fill="#fff" />
<rect x="159.65" y="304.40" width="0.80" height="1.60" fill="#fff" />
<rect x="162.40" y="304.40" width="0.80" height="1.60" fill="#fff" />
<rect x="165.15" y="304.40" width="0.80" height="1.60" fill="#fff" />
<rect x="167.90" y="304.40" width="0.80" height="1.60" fill="#fff" />
<rect x="170.65" y="304.40" width="0.80" height="1.60" fill="#fff" />
<rect x="173.40" y="304.40" width="0.80" height="1.60" fill="#fff" />
<rect x="176.15" y="304.40" width="0.80" height="1.60" fill="#fff" />
<rect x="178.90" y="304.40" width="0.80" height="1.60" fill="#fff" />
<rect x="181.65" y="304.40" width="0.80" height="1.60" fill="#fff" />
<rect x="184.40" y="304.40" width="0.80" height="1.60" fill="#fff" />
<rect x="121" y="271" width="48" height="15" rx="3" fill="#000"/>
<rect x="123" y="273" width="44" height="11" rx="1" fill="#fff"/>
<text x="125.30" y="283.00" font-size="11.1" text-anchor="start" fill="#000" filter="url(#t)" >BANK 0</text>
<path d="M97,303.5 L99.5,308.3 H141.5 L146.2,314.5 L151,308.3 H191 L193.5,303.5" fill="none" stroke="#000" stroke-width="1"/>
<rect x="127" y="314" width="40" height="14" rx="3" fill="#000"/>
<rect x="129" y="316" width="36" height="10" rx="1" fill="#fff"/>
<text x="128.50" y="325.00" font-size="11.1" text-anchor="start" fill="#000" textLength="34.70" lengthAdjust="spacingAndGlyphs" filter="url(#t2)" >CACHE</text>
<rect x="58.00" y="308.00" width="20.00" height="66.40" fill="#000" />
<rect x="66.40" y="312.00" width="3.70" height="61.00" fill="#fff" />
<polygon points="66.4,374.5 68.2,372 70.1,374.5" fill="#fff"/>
<rect x="60.00" y="310.00" width="4.40" height="3.00" fill="#fff" />
<rect x="72.00" y="310.00" width="4.20" height="3.00" fill="#fff" />
<rect x="60.00" y="315.00" width="4.40" height="3.00" fill="#fff" />
<rect x="72.00" y="315.00" width="4.20" height="3.00" fill="#fff" />
<rect x="60.00" y="320.00" width="4.40" height="3.00" fill="#fff" />
<rect x="72.00" y="320.00" width="4.20" height="3.00" fill="#fff" />
<rect x="60.00" y="325.00" width="4.40" height="3.00" fill="#fff" />
<rect x="72.00" y="325.00" width="4.20" height="3.00" fill="#fff" />
<rect x="60.00" y="329.00" width="4.40" height="3.00" fill="#fff" />
<rect x="72.00" y="329.00" width="4.20" height="3.00" fill="#fff" />
<rect x="60.00" y="334.00" width="4.40" height="3.00" fill="#fff" />
<rect x="72.00" y="334.00" width="4.20" height="3.00" fill="#fff" />
<rect x="60.00" y="339.00" width="4.40" height="3.00" fill="#fff" />
<rect x="72.00" y="339.00" width="4.20" height="3.00" fill="#fff" />
<rect x="60.00" y="344.00" width="4.40" height="3.00" fill="#fff" />
<rect x="72.00" y="344.00" width="4.20" height="3.00" fill="#fff" />
<rect x="60.00" y="349.00" width="4.40" height="3.00" fill="#fff" />
<rect x="72.00" y="349.00" width="4.20" height="3.00" fill="#fff" />
<rect x="60.00" y="354.00" width="4.40" height="3.00" fill="#fff" />
<rect x="72.00" y="354.00" width="4.20" height="3.00" fill="#fff" />
<rect x="60.00" y="359.00" width="4.40" height="3.00" fill="#fff" />
<rect x="72.00" y="359.00" width="4.20" height="3.00" fill="#fff" />
<rect x="60.00" y="364.00" width="4.40" height="3.00" fill="#fff" />
<rect x="72.00" y="364.00" width="4.20" height="3.00" fill="#fff" />
<rect x="60.00" y="368.00" width="4.40" height="3.00" fill="#fff" />
<rect x="72.00" y="368.00" width="4.20" height="3.00" fill="#fff" />
<rect x="55" y="334" width="27" height="14" rx="3" fill="#000"/>
<rect x="57" y="336" width="23" height="10" rx="1" fill="#fff"/>
<text x="57.50" y="345.00" font-size="11.1" text-anchor="start" fill="#000" textLength="20.70" lengthAdjust="spacingAndGlyphs" filter="url(#t2)" >TAG</text>
<rect x="463.00" y="259.00" width="39.00" height="10.00" fill="#000" />
<rect x="464.00" y="263.00" width="37.00" height="1.00" fill="#fff" />
<rect x="464.00" y="260.00" width="1.00" height="8.00" fill="#fff" />
<rect x="473.00" y="260.00" width="1.00" height="8.00" fill="#fff" />
<rect x="477.00" y="260.00" width="1.00" height="8.00" fill="#fff" />
<rect x="482.00" y="260.00" width="1.00" height="8.00" fill="#fff" />
<rect x="487.00" y="260.00" width="1.00" height="8.00" fill="#fff" />
<rect x="491.00" y="260.00" width="1.00" height="8.00" fill="#fff" />
<rect x="496.00" y="260.00" width="1.00" height="8.00" fill="#fff" />
<rect x="498.00" y="261.00" width="2.00" height="1.00" fill="#fff" />
<rect x="469" y="230" width="35" height="15" rx="3" fill="#000"/>
<rect x="471" y="232" width="31" height="11" rx="1" fill="#fff"/>
<text x="473.50" y="241.00" font-size="11.1" text-anchor="start" fill="#000" filter="url(#t)" >JP28</text>
<rect x="485.20" y="242.80" width="3.60" height="2.40" fill="#fff" />
<polyline points="484.50,244.40 484.50,245.40 486.60,248.60 487.40,248.60 489.50,245.40 489.50,244.40" fill="#fff" stroke="#000" stroke-width="1.4" stroke-linejoin="miter"/>
<line x1="487.00" y1="247.40" x2="487.00" y2="259.50" stroke="#000" stroke-width="2.4"/>
<rect x="421.00" y="279.00" width="63.00" height="10.00" fill="#000" />
<rect x="422.00" y="280.00" width="1.00" height="8.00" fill="#fff" />
<rect x="427.00" y="280.00" width="1.00" height="8.00" fill="#fff" />
<rect x="432.00" y="280.00" width="1.00" height="8.00" fill="#fff" />
<rect x="441.00" y="280.00" width="1.00" height="8.00" fill="#fff" />
<rect x="445.00" y="280.00" width="1.00" height="8.00" fill="#fff" />
<rect x="450.00" y="280.00" width="1.00" height="8.00" fill="#fff" />
<rect x="455.00" y="280.00" width="1.00" height="8.00" fill="#fff" />
<rect x="459.00" y="280.00" width="1.00" height="8.00" fill="#fff" />
<rect x="468.00" y="280.00" width="1.00" height="8.00" fill="#fff" />
<rect x="473.00" y="280.00" width="1.00" height="8.00" fill="#fff" />
<rect x="478.00" y="280.00" width="1.00" height="8.00" fill="#fff" />
<rect x="482.00" y="280.00" width="1.00" height="8.00" fill="#fff" />
<rect x="480.00" y="281.00" width="2.00" height="2.00" fill="#fff" />
<rect x="421.00" y="296.00" width="81.00" height="10.00" fill="#000" />
<rect x="427.00" y="297.00" width="1.00" height="8.00" fill="#fff" />
<rect x="432.00" y="297.00" width="1.00" height="8.00" fill="#fff" />
<rect x="436.00" y="297.00" width="1.00" height="8.00" fill="#fff" />
<rect x="441.00" y="297.00" width="1.00" height="8.00" fill="#fff" />
<rect x="445.00" y="297.00" width="1.00" height="8.00" fill="#fff" />
<rect x="450.00" y="297.00" width="1.00" height="8.00" fill="#fff" />
<rect x="455.00" y="297.00" width="1.00" height="8.00" fill="#fff" />
<rect x="459.00" y="297.00" width="1.00" height="8.00" fill="#fff" />
<rect x="464.00" y="297.00" width="1.00" height="8.00" fill="#fff" />
<rect x="468.00" y="297.00" width="1.00" height="8.00" fill="#fff" />
<rect x="473.00" y="297.00" width="1.00" height="8.00" fill="#fff" />
<rect x="478.00" y="297.00" width="1.00" height="8.00" fill="#fff" />
<rect x="482.00" y="297.00" width="1.00" height="8.00" fill="#fff" />
<rect x="487.00" y="297.00" width="1.00" height="8.00" fill="#fff" />
<rect x="491.00" y="297.00" width="1.00" height="8.00" fill="#fff" />
<rect x="496.00" y="297.00" width="1.00" height="8.00" fill="#fff" />
<rect x="498.00" y="298.00" width="2.00" height="2.00" fill="#fff" />
<rect x="427" y="251" width="27" height="16" rx="3" fill="#000"/>
<rect x="429" y="253" width="23" height="12" rx="1" fill="#fff"/>
<text x="429.90" y="262.00" font-size="11.1" text-anchor="start" fill="#000" filter="url(#t)" >CN3</text>
<rect x="438.00" y="264.80" width="3.60" height="2.40" fill="#fff" />
<polyline points="437.30,266.40 437.30,267.40 439.40,270.60 440.20,270.60 442.30,267.40 442.30,266.40" fill="#fff" stroke="#000" stroke-width="1.4" stroke-linejoin="miter"/>
<line x1="439.80" y1="269.40" x2="440.00" y2="279.50" stroke="#000" stroke-width="2.4"/>
<rect x="432" y="318" width="27" height="16" rx="3" fill="#000"/>
<rect x="434" y="320" width="23" height="12" rx="1" fill="#fff"/>
<text x="433.40" y="329.00" font-size="11.1" text-anchor="start" fill="#000" textLength="20.50" lengthAdjust="spacingAndGlyphs" filter="url(#t2)" >CN4</text>
<rect x="444.00" y="317.80" width="3.60" height="2.40" fill="#fff" />
<polyline points="443.30,318.60 443.30,317.60 445.40,314.40 446.20,314.40 448.30,317.60 448.30,318.60" fill="#fff" stroke="#000" stroke-width="1.4" stroke-linejoin="miter"/>
<line x1="445.80" y1="315.60" x2="446.00" y2="305.50" stroke="#000" stroke-width="2.4"/>
<rect x="507.00" y="278.00" width="25.00" height="11.00" fill="#000" />
<rect x="508.00" y="283.00" width="20.00" height="1.00" fill="#fff" />
<rect x="508.00" y="279.00" width="1.00" height="9.00" fill="#fff" />
<rect x="513.00" y="279.00" width="1.00" height="9.00" fill="#fff" />
<rect x="517.00" y="279.00" width="1.00" height="9.00" fill="#fff" />
<rect x="522.00" y="279.00" width="1.00" height="9.00" fill="#fff" />
<rect x="526.00" y="279.00" width="1.00" height="9.00" fill="#fff" />
<rect x="528.00" y="279.00" width="2.00" height="2.00" fill="#fff" />
<rect x="507.00" y="295.00" width="25.00" height="10.40" fill="#000" />
<rect x="508.00" y="300.00" width="20.00" height="1.00" fill="#fff" />
<rect x="508.00" y="296.00" width="1.00" height="8.40" fill="#fff" />
<rect x="513.00" y="296.00" width="1.00" height="8.40" fill="#fff" />
<rect x="517.00" y="296.00" width="1.00" height="8.40" fill="#fff" />
<rect x="522.00" y="296.00" width="1.00" height="8.40" fill="#fff" />
<rect x="526.00" y="296.00" width="1.00" height="8.40" fill="#fff" />
<rect x="528.00" y="296.00" width="2.00" height="2.00" fill="#fff" />
<rect x="537" y="264" width="27" height="15" rx="3" fill="#000"/>
<rect x="539" y="266" width="23" height="11" rx="1" fill="#fff"/>
<text x="540.40" y="275.00" font-size="11.1" text-anchor="start" fill="#000" textLength="19.00" lengthAdjust="spacingAndGlyphs" filter="url(#t2)" >CN1</text>
<path d="M541,277 L533.5,283.5 L531,283.5" fill="none" stroke="#000" stroke-width="2.2"/>
<rect x="544" y="293" width="28" height="14" rx="3" fill="#000"/>
<rect x="546" y="295" width="24" height="10" rx="1" fill="#fff"/>
<text x="546.40" y="304.00" font-size="11.1" text-anchor="start" fill="#000" filter="url(#t)" >CN2</text>
<rect x="543.80" y="298.10" width="2.40" height="3.80" fill="#fff" />
<polyline points="544.60,297.40 543.60,297.40 540.40,299.60 540.40,300.40 543.60,302.60 544.60,302.60" fill="#fff" stroke="#000" stroke-width="1.4" stroke-linejoin="miter"/>
<line x1="541.60" y1="300.00" x2="531.50" y2="300.00" stroke="#000" stroke-width="3"/>
<rect x="471.00" y="314.00" width="25.00" height="6.00" fill="#000" />
<rect x="476.00" y="315.00" width="1.00" height="4.00" fill="#fff" />
<rect x="485.00" y="315.00" width="1.00" height="4.00" fill="#fff" />
<rect x="490.00" y="315.00" width="5.00" height="4.00" fill="#fff" />
<rect x="491.00" y="315.00" width="1.00" height="4.00" fill="#000" />
<rect x="492.00" y="316.00" width="1.00" height="2.00" fill="#000" />
<rect x="493.00" y="315.00" width="1.00" height="4.00" fill="#fff" />
<rect x="491.00" y="315.00" width="1.00" height="4.00" fill="#fff" />
<rect x="492.00" y="316.40" width="1.00" height="1.60" fill="#000" />
<rect x="507" y="309" width="29" height="15" rx="3" fill="#000"/>
<rect x="509" y="311" width="25" height="11" rx="1" fill="#fff"/>
<text x="511.40" y="320.00" font-size="11.1" text-anchor="start" fill="#000" filter="url(#t)" >JP2</text>
<rect x="506.80" y="314.90" width="2.40" height="3.80" fill="#fff" />
<polyline points="507.60,314.20 506.60,314.20 502.00,316.40 502.00,317.20 506.60,319.40 507.60,319.40" fill="#fff" stroke="#000" stroke-width="1.4" stroke-linejoin="miter"/>
<line x1="503.20" y1="316.80" x2="496.00" y2="316.80" stroke="#000" stroke-width="1.2"/>
<rect x="322.00" y="339.00" width="223.00" height="54.00" fill="#000" />
<rect x="341.00" y="340.00" width="185.00" height="1.00" fill="#fff" />
<rect x="341.00" y="352.00" width="185.00" height="1.00" fill="#fff" />
<rect x="341.00" y="354.00" width="185.00" height="1.00" fill="#fff" />
<rect x="341.00" y="364.00" width="185.00" height="1.00" fill="#fff" />
<rect x="341.00" y="367.00" width="185.00" height="1.00" fill="#fff" />
<rect x="341.00" y="379.00" width="185.00" height="1.00" fill="#fff" />
<rect x="341.00" y="381.00" width="185.00" height="1.00" fill="#fff" />
<rect x="341.00" y="391.00" width="185.00" height="1.00" fill="#fff" />
<rect x="323.00" y="340.00" width="6.00" height="2.00" fill="#fff" />
<rect x="538.00" y="340.00" width="6.00" height="2.00" fill="#fff" />
<rect x="323.00" y="343.00" width="6.00" height="4.00" fill="#fff" />
<rect x="538.00" y="343.00" width="6.00" height="4.00" fill="#fff" />
<rect x="323.00" y="348.00" width="6.00" height="3.00" fill="#fff" />
<rect x="538.00" y="348.00" width="6.00" height="3.00" fill="#fff" />
<rect x="332.00" y="340.00" width="9.00" height="11.00" fill="#fff" />
<rect x="526.00" y="340.00" width="9.00" height="11.00" fill="#fff" />
<rect x="332.00" y="342.00" width="8.00" height="1.00" fill="#000" />
<rect x="527.00" y="342.00" width="8.00" height="1.00" fill="#000" />
<rect x="339.00" y="342.00" width="1.00" height="7.00" fill="#000" />
<rect x="527.00" y="342.00" width="1.00" height="7.00" fill="#000" />
<rect x="333.00" y="346.00" width="5.00" height="1.00" fill="#000" />
<rect x="529.00" y="346.00" width="5.00" height="1.00" fill="#000" />
<rect x="332.00" y="347.00" width="2.00" height="2.00" fill="#000" />
<rect x="533.00" y="347.00" width="2.00" height="2.00" fill="#000" />
<rect x="337.00" y="346.00" width="1.00" height="5.00" fill="#000" />
<rect x="529.00" y="346.00" width="1.00" height="5.00" fill="#000" />
<rect x="342.70" y="343.00" width="1.00" height="3.00" fill="#fff" />
<rect x="344.85" y="343.00" width="1.00" height="3.00" fill="#fff" />
<rect x="347.00" y="343.00" width="1.00" height="3.00" fill="#fff" />
<rect x="354.20" y="343.00" width="1.00" height="3.00" fill="#fff" />
<rect x="356.35" y="343.00" width="1.00" height="3.00" fill="#fff" />
<rect x="358.50" y="343.00" width="1.00" height="3.00" fill="#fff" />
<rect x="360.65" y="343.00" width="1.00" height="3.00" fill="#fff" />
<rect x="362.80" y="343.00" width="1.00" height="3.00" fill="#fff" />
<rect x="369.10" y="343.00" width="1.00" height="3.00" fill="#fff" />
<rect x="371.25" y="343.00" width="1.00" height="3.00" fill="#fff" />
<rect x="373.40" y="343.00" width="1.00" height="3.00" fill="#fff" />
<rect x="375.55" y="343.00" width="1.00" height="3.00" fill="#fff" />
<rect x="377.70" y="343.00" width="1.00" height="3.00" fill="#fff" />
<rect x="379.85" y="343.00" width="1.00" height="3.00" fill="#fff" />
<rect x="386.10" y="343.00" width="1.00" height="3.00" fill="#fff" />
<rect x="388.25" y="343.00" width="1.00" height="3.00" fill="#fff" />
<rect x="390.40" y="343.00" width="1.00" height="3.00" fill="#fff" />
<rect x="392.55" y="343.00" width="1.00" height="3.00" fill="#fff" />
<rect x="403.20" y="343.00" width="1.00" height="3.00" fill="#fff" />
<rect x="405.35" y="343.00" width="1.00" height="3.00" fill="#fff" />
<rect x="407.50" y="343.00" width="1.00" height="3.00" fill="#fff" />
<rect x="418.00" y="343.00" width="1.00" height="3.00" fill="#fff" />
<rect x="420.15" y="343.00" width="1.00" height="3.00" fill="#fff" />
<rect x="422.30" y="343.00" width="1.00" height="3.00" fill="#fff" />
<rect x="439.10" y="343.00" width="1.00" height="3.00" fill="#fff" />
<rect x="441.25" y="343.00" width="1.00" height="3.00" fill="#fff" />
<rect x="443.40" y="343.00" width="1.00" height="3.00" fill="#fff" />
<rect x="454.30" y="343.00" width="1.00" height="3.00" fill="#fff" />
<rect x="456.45" y="343.00" width="1.00" height="3.00" fill="#fff" />
<rect x="458.60" y="343.00" width="1.00" height="3.00" fill="#fff" />
<rect x="460.75" y="343.00" width="1.00" height="3.00" fill="#fff" />
<rect x="469.40" y="343.00" width="1.00" height="3.00" fill="#fff" />
<rect x="471.55" y="343.00" width="1.00" height="3.00" fill="#fff" />
<rect x="473.70" y="343.00" width="1.00" height="3.00" fill="#fff" />
<rect x="475.85" y="343.00" width="1.00" height="3.00" fill="#fff" />
<rect x="482.00" y="343.00" width="1.00" height="3.00" fill="#fff" />
<rect x="484.15" y="343.00" width="1.00" height="3.00" fill="#fff" />
<rect x="486.30" y="343.00" width="1.00" height="3.00" fill="#fff" />
<rect x="488.45" y="343.00" width="1.00" height="3.00" fill="#fff" />
<rect x="490.60" y="343.00" width="1.00" height="3.00" fill="#fff" />
<rect x="499.30" y="343.00" width="1.00" height="3.00" fill="#fff" />
<rect x="501.45" y="343.00" width="1.00" height="3.00" fill="#fff" />
<rect x="503.60" y="343.00" width="1.00" height="3.00" fill="#fff" />
<rect x="505.75" y="343.00" width="1.00" height="3.00" fill="#fff" />
<rect x="514.10" y="343.00" width="1.00" height="3.00" fill="#fff" />
<rect x="516.25" y="343.00" width="1.00" height="3.00" fill="#fff" />
<rect x="518.40" y="343.00" width="1.00" height="3.00" fill="#fff" />
<rect x="520.55" y="343.00" width="1.00" height="3.00" fill="#fff" />
<rect x="430.00" y="340.00" width="7.00" height="5.00" fill="#fff" />
<rect x="323.00" y="354.00" width="6.00" height="2.00" fill="#fff" />
<rect x="538.00" y="354.00" width="6.00" height="2.00" fill="#fff" />
<rect x="323.00" y="357.00" width="6.00" height="4.00" fill="#fff" />
<rect x="538.00" y="357.00" width="6.00" height="4.00" fill="#fff" />
<rect x="323.00" y="362.00" width="6.00" height="3.00" fill="#fff" />
<rect x="538.00" y="362.00" width="6.00" height="3.00" fill="#fff" />
<rect x="332.00" y="354.00" width="9.00" height="11.00" fill="#fff" />
<rect x="526.00" y="354.00" width="9.00" height="11.00" fill="#fff" />
<rect x="332.00" y="356.00" width="8.00" height="1.00" fill="#000" />
<rect x="527.00" y="356.00" width="8.00" height="1.00" fill="#000" />
<rect x="339.00" y="356.00" width="1.00" height="7.00" fill="#000" />
<rect x="527.00" y="356.00" width="1.00" height="7.00" fill="#000" />
<rect x="333.00" y="360.00" width="5.00" height="1.00" fill="#000" />
<rect x="529.00" y="360.00" width="5.00" height="1.00" fill="#000" />
<rect x="332.00" y="361.00" width="2.00" height="2.00" fill="#000" />
<rect x="533.00" y="361.00" width="2.00" height="2.00" fill="#000" />
<rect x="337.00" y="360.00" width="1.00" height="5.00" fill="#000" />
<rect x="529.00" y="360.00" width="1.00" height="5.00" fill="#000" />
<rect x="342.70" y="357.00" width="1.00" height="3.00" fill="#fff" />
<rect x="344.85" y="357.00" width="1.00" height="3.00" fill="#fff" />
<rect x="347.00" y="357.00" width="1.00" height="3.00" fill="#fff" />
<rect x="354.20" y="357.00" width="1.00" height="3.00" fill="#fff" />
<rect x="356.35" y="357.00" width="1.00" height="3.00" fill="#fff" />
<rect x="358.50" y="357.00" width="1.00" height="3.00" fill="#fff" />
<rect x="360.65" y="357.00" width="1.00" height="3.00" fill="#fff" />
<rect x="362.80" y="357.00" width="1.00" height="3.00" fill="#fff" />
<rect x="369.10" y="357.00" width="1.00" height="3.00" fill="#fff" />
<rect x="371.25" y="357.00" width="1.00" height="3.00" fill="#fff" />
<rect x="373.40" y="357.00" width="1.00" height="3.00" fill="#fff" />
<rect x="375.55" y="357.00" width="1.00" height="3.00" fill="#fff" />
<rect x="377.70" y="357.00" width="1.00" height="3.00" fill="#fff" />
<rect x="379.85" y="357.00" width="1.00" height="3.00" fill="#fff" />
<rect x="386.10" y="357.00" width="1.00" height="3.00" fill="#fff" />
<rect x="388.25" y="357.00" width="1.00" height="3.00" fill="#fff" />
<rect x="390.40" y="357.00" width="1.00" height="3.00" fill="#fff" />
<rect x="392.55" y="357.00" width="1.00" height="3.00" fill="#fff" />
<rect x="403.20" y="357.00" width="1.00" height="3.00" fill="#fff" />
<rect x="405.35" y="357.00" width="1.00" height="3.00" fill="#fff" />
<rect x="407.50" y="357.00" width="1.00" height="3.00" fill="#fff" />
<rect x="418.00" y="357.00" width="1.00" height="3.00" fill="#fff" />
<rect x="420.15" y="357.00" width="1.00" height="3.00" fill="#fff" />
<rect x="422.30" y="357.00" width="1.00" height="3.00" fill="#fff" />
<rect x="439.10" y="357.00" width="1.00" height="3.00" fill="#fff" />
<rect x="441.25" y="357.00" width="1.00" height="3.00" fill="#fff" />
<rect x="443.40" y="357.00" width="1.00" height="3.00" fill="#fff" />
<rect x="454.30" y="357.00" width="1.00" height="3.00" fill="#fff" />
<rect x="456.45" y="357.00" width="1.00" height="3.00" fill="#fff" />
<rect x="458.60" y="357.00" width="1.00" height="3.00" fill="#fff" />
<rect x="460.75" y="357.00" width="1.00" height="3.00" fill="#fff" />
<rect x="469.40" y="357.00" width="1.00" height="3.00" fill="#fff" />
<rect x="471.55" y="357.00" width="1.00" height="3.00" fill="#fff" />
<rect x="473.70" y="357.00" width="1.00" height="3.00" fill="#fff" />
<rect x="475.85" y="357.00" width="1.00" height="3.00" fill="#fff" />
<rect x="482.00" y="357.00" width="1.00" height="3.00" fill="#fff" />
<rect x="484.15" y="357.00" width="1.00" height="3.00" fill="#fff" />
<rect x="486.30" y="357.00" width="1.00" height="3.00" fill="#fff" />
<rect x="488.45" y="357.00" width="1.00" height="3.00" fill="#fff" />
<rect x="490.60" y="357.00" width="1.00" height="3.00" fill="#fff" />
<rect x="499.30" y="357.00" width="1.00" height="3.00" fill="#fff" />
<rect x="501.45" y="357.00" width="1.00" height="3.00" fill="#fff" />
<rect x="503.60" y="357.00" width="1.00" height="3.00" fill="#fff" />
<rect x="505.75" y="357.00" width="1.00" height="3.00" fill="#fff" />
<rect x="514.10" y="357.00" width="1.00" height="3.00" fill="#fff" />
<rect x="516.25" y="357.00" width="1.00" height="3.00" fill="#fff" />
<rect x="518.40" y="357.00" width="1.00" height="3.00" fill="#fff" />
<rect x="520.55" y="357.00" width="1.00" height="3.00" fill="#fff" />
<rect x="430.00" y="360.00" width="7.00" height="5.00" fill="#fff" />
<rect x="323.00" y="367.00" width="6.00" height="2.00" fill="#fff" />
<rect x="538.00" y="367.00" width="6.00" height="2.00" fill="#fff" />
<rect x="323.00" y="370.00" width="6.00" height="4.00" fill="#fff" />
<rect x="538.00" y="370.00" width="6.00" height="4.00" fill="#fff" />
<rect x="323.00" y="375.00" width="6.00" height="3.00" fill="#fff" />
<rect x="538.00" y="375.00" width="6.00" height="3.00" fill="#fff" />
<rect x="332.00" y="367.00" width="9.00" height="11.00" fill="#fff" />
<rect x="526.00" y="367.00" width="9.00" height="11.00" fill="#fff" />
<rect x="332.00" y="369.00" width="8.00" height="1.00" fill="#000" />
<rect x="527.00" y="369.00" width="8.00" height="1.00" fill="#000" />
<rect x="339.00" y="369.00" width="1.00" height="7.00" fill="#000" />
<rect x="527.00" y="369.00" width="1.00" height="7.00" fill="#000" />
<rect x="333.00" y="373.00" width="5.00" height="1.00" fill="#000" />
<rect x="529.00" y="373.00" width="5.00" height="1.00" fill="#000" />
<rect x="332.00" y="374.00" width="2.00" height="2.00" fill="#000" />
<rect x="533.00" y="374.00" width="2.00" height="2.00" fill="#000" />
<rect x="337.00" y="373.00" width="1.00" height="5.00" fill="#000" />
<rect x="529.00" y="373.00" width="1.00" height="5.00" fill="#000" />
<rect x="342.70" y="370.00" width="1.00" height="3.00" fill="#fff" />
<rect x="344.85" y="370.00" width="1.00" height="3.00" fill="#fff" />
<rect x="347.00" y="370.00" width="1.00" height="3.00" fill="#fff" />
<rect x="354.20" y="370.00" width="1.00" height="3.00" fill="#fff" />
<rect x="356.35" y="370.00" width="1.00" height="3.00" fill="#fff" />
<rect x="358.50" y="370.00" width="1.00" height="3.00" fill="#fff" />
<rect x="360.65" y="370.00" width="1.00" height="3.00" fill="#fff" />
<rect x="362.80" y="370.00" width="1.00" height="3.00" fill="#fff" />
<rect x="369.10" y="370.00" width="1.00" height="3.00" fill="#fff" />
<rect x="371.25" y="370.00" width="1.00" height="3.00" fill="#fff" />
<rect x="373.40" y="370.00" width="1.00" height="3.00" fill="#fff" />
<rect x="375.55" y="370.00" width="1.00" height="3.00" fill="#fff" />
<rect x="377.70" y="370.00" width="1.00" height="3.00" fill="#fff" />
<rect x="379.85" y="370.00" width="1.00" height="3.00" fill="#fff" />
<rect x="386.10" y="370.00" width="1.00" height="3.00" fill="#fff" />
<rect x="388.25" y="370.00" width="1.00" height="3.00" fill="#fff" />
<rect x="390.40" y="370.00" width="1.00" height="3.00" fill="#fff" />
<rect x="392.55" y="370.00" width="1.00" height="3.00" fill="#fff" />
<rect x="403.20" y="370.00" width="1.00" height="3.00" fill="#fff" />
<rect x="405.35" y="370.00" width="1.00" height="3.00" fill="#fff" />
<rect x="407.50" y="370.00" width="1.00" height="3.00" fill="#fff" />
<rect x="418.00" y="370.00" width="1.00" height="3.00" fill="#fff" />
<rect x="420.15" y="370.00" width="1.00" height="3.00" fill="#fff" />
<rect x="422.30" y="370.00" width="1.00" height="3.00" fill="#fff" />
<rect x="439.10" y="370.00" width="1.00" height="3.00" fill="#fff" />
<rect x="441.25" y="370.00" width="1.00" height="3.00" fill="#fff" />
<rect x="443.40" y="370.00" width="1.00" height="3.00" fill="#fff" />
<rect x="454.30" y="370.00" width="1.00" height="3.00" fill="#fff" />
<rect x="456.45" y="370.00" width="1.00" height="3.00" fill="#fff" />
<rect x="458.60" y="370.00" width="1.00" height="3.00" fill="#fff" />
<rect x="460.75" y="370.00" width="1.00" height="3.00" fill="#fff" />
<rect x="469.40" y="370.00" width="1.00" height="3.00" fill="#fff" />
<rect x="471.55" y="370.00" width="1.00" height="3.00" fill="#fff" />
<rect x="473.70" y="370.00" width="1.00" height="3.00" fill="#fff" />
<rect x="475.85" y="370.00" width="1.00" height="3.00" fill="#fff" />
<rect x="482.00" y="370.00" width="1.00" height="3.00" fill="#fff" />
<rect x="484.15" y="370.00" width="1.00" height="3.00" fill="#fff" />
<rect x="486.30" y="370.00" width="1.00" height="3.00" fill="#fff" />
<rect x="488.45" y="370.00" width="1.00" height="3.00" fill="#fff" />
<rect x="490.60" y="370.00" width="1.00" height="3.00" fill="#fff" />
<rect x="499.30" y="370.00" width="1.00" height="3.00" fill="#fff" />
<rect x="501.45" y="370.00" width="1.00" height="3.00" fill="#fff" />
<rect x="503.60" y="370.00" width="1.00" height="3.00" fill="#fff" />
<rect x="505.75" y="370.00" width="1.00" height="3.00" fill="#fff" />
<rect x="514.10" y="370.00" width="1.00" height="3.00" fill="#fff" />
<rect x="516.25" y="370.00" width="1.00" height="3.00" fill="#fff" />
<rect x="518.40" y="370.00" width="1.00" height="3.00" fill="#fff" />
<rect x="520.55" y="370.00" width="1.00" height="3.00" fill="#fff" />
<rect x="430.00" y="367.00" width="7.00" height="5.00" fill="#fff" />
<rect x="323.00" y="381.00" width="6.00" height="2.00" fill="#fff" />
<rect x="538.00" y="381.00" width="6.00" height="2.00" fill="#fff" />
<rect x="323.00" y="384.00" width="6.00" height="4.00" fill="#fff" />
<rect x="538.00" y="384.00" width="6.00" height="4.00" fill="#fff" />
<rect x="323.00" y="389.00" width="6.00" height="3.00" fill="#fff" />
<rect x="538.00" y="389.00" width="6.00" height="3.00" fill="#fff" />
<rect x="332.00" y="381.00" width="9.00" height="11.00" fill="#fff" />
<rect x="526.00" y="381.00" width="9.00" height="11.00" fill="#fff" />
<rect x="332.00" y="383.00" width="8.00" height="1.00" fill="#000" />
<rect x="527.00" y="383.00" width="8.00" height="1.00" fill="#000" />
<rect x="339.00" y="383.00" width="1.00" height="7.00" fill="#000" />
<rect x="527.00" y="383.00" width="1.00" height="7.00" fill="#000" />
<rect x="333.00" y="387.00" width="5.00" height="1.00" fill="#000" />
<rect x="529.00" y="387.00" width="5.00" height="1.00" fill="#000" />
<rect x="332.00" y="388.00" width="2.00" height="2.00" fill="#000" />
<rect x="533.00" y="388.00" width="2.00" height="2.00" fill="#000" />
<rect x="337.00" y="387.00" width="1.00" height="5.00" fill="#000" />
<rect x="529.00" y="387.00" width="1.00" height="5.00" fill="#000" />
<rect x="342.70" y="384.00" width="1.00" height="3.00" fill="#fff" />
<rect x="344.85" y="384.00" width="1.00" height="3.00" fill="#fff" />
<rect x="347.00" y="384.00" width="1.00" height="3.00" fill="#fff" />
<rect x="354.20" y="384.00" width="1.00" height="3.00" fill="#fff" />
<rect x="356.35" y="384.00" width="1.00" height="3.00" fill="#fff" />
<rect x="358.50" y="384.00" width="1.00" height="3.00" fill="#fff" />
<rect x="360.65" y="384.00" width="1.00" height="3.00" fill="#fff" />
<rect x="362.80" y="384.00" width="1.00" height="3.00" fill="#fff" />
<rect x="369.10" y="384.00" width="1.00" height="3.00" fill="#fff" />
<rect x="371.25" y="384.00" width="1.00" height="3.00" fill="#fff" />
<rect x="373.40" y="384.00" width="1.00" height="3.00" fill="#fff" />
<rect x="375.55" y="384.00" width="1.00" height="3.00" fill="#fff" />
<rect x="377.70" y="384.00" width="1.00" height="3.00" fill="#fff" />
<rect x="379.85" y="384.00" width="1.00" height="3.00" fill="#fff" />
<rect x="386.10" y="384.00" width="1.00" height="3.00" fill="#fff" />
<rect x="388.25" y="384.00" width="1.00" height="3.00" fill="#fff" />
<rect x="390.40" y="384.00" width="1.00" height="3.00" fill="#fff" />
<rect x="392.55" y="384.00" width="1.00" height="3.00" fill="#fff" />
<rect x="403.20" y="384.00" width="1.00" height="3.00" fill="#fff" />
<rect x="405.35" y="384.00" width="1.00" height="3.00" fill="#fff" />
<rect x="407.50" y="384.00" width="1.00" height="3.00" fill="#fff" />
<rect x="418.00" y="384.00" width="1.00" height="3.00" fill="#fff" />
<rect x="420.15" y="384.00" width="1.00" height="3.00" fill="#fff" />
<rect x="422.30" y="384.00" width="1.00" height="3.00" fill="#fff" />
<rect x="439.10" y="384.00" width="1.00" height="3.00" fill="#fff" />
<rect x="441.25" y="384.00" width="1.00" height="3.00" fill="#fff" />
<rect x="443.40" y="384.00" width="1.00" height="3.00" fill="#fff" />
<rect x="454.30" y="384.00" width="1.00" height="3.00" fill="#fff" />
<rect x="456.45" y="384.00" width="1.00" height="3.00" fill="#fff" />
<rect x="458.60" y="384.00" width="1.00" height="3.00" fill="#fff" />
<rect x="460.75" y="384.00" width="1.00" height="3.00" fill="#fff" />
<rect x="469.40" y="384.00" width="1.00" height="3.00" fill="#fff" />
<rect x="471.55" y="384.00" width="1.00" height="3.00" fill="#fff" />
<rect x="473.70" y="384.00" width="1.00" height="3.00" fill="#fff" />
<rect x="475.85" y="384.00" width="1.00" height="3.00" fill="#fff" />
<rect x="482.00" y="384.00" width="1.00" height="3.00" fill="#fff" />
<rect x="484.15" y="384.00" width="1.00" height="3.00" fill="#fff" />
<rect x="486.30" y="384.00" width="1.00" height="3.00" fill="#fff" />
<rect x="488.45" y="384.00" width="1.00" height="3.00" fill="#fff" />
<rect x="490.60" y="384.00" width="1.00" height="3.00" fill="#fff" />
<rect x="499.30" y="384.00" width="1.00" height="3.00" fill="#fff" />
<rect x="501.45" y="384.00" width="1.00" height="3.00" fill="#fff" />
<rect x="503.60" y="384.00" width="1.00" height="3.00" fill="#fff" />
<rect x="505.75" y="384.00" width="1.00" height="3.00" fill="#fff" />
<rect x="514.10" y="384.00" width="1.00" height="3.00" fill="#fff" />
<rect x="516.25" y="384.00" width="1.00" height="3.00" fill="#fff" />
<rect x="518.40" y="384.00" width="1.00" height="3.00" fill="#fff" />
<rect x="520.55" y="384.00" width="1.00" height="3.00" fill="#fff" />
<rect x="430.00" y="387.00" width="7.00" height="5.00" fill="#fff" />
<rect x="411.00" y="347.00" width="45.00" height="11.00" fill="#fff" />
<text x="413.20" y="357.00" font-size="10.3" text-anchor="start" fill="#000" textLength="39.10" lengthAdjust="spacing" filter="url(#t)" >BANK 0</text>
<rect x="411.00" y="374.00" width="45.00" height="11.00" fill="#fff" />
<text x="413.20" y="384.00" font-size="10.3" text-anchor="start" fill="#000" textLength="39.10" lengthAdjust="spacing" filter="url(#t)" >BANK 1</text>
<rect x="554.00" y="307.00" width="20.00" height="89.40" fill="#000" />
<rect x="555.00" y="308.00" width="18.00" height="87.40" fill="#fff" />
<rect x="563.50" y="307.00" width="2.90" height="89.40" fill="#000" />
<rect x="567.50" y="308.00" width="2.10" height="87.40" fill="#000" />
<rect x="557.00" y="309.80" width="6.50" height="1.00" fill="#000" />
<rect x="557.00" y="312.20" width="6.50" height="5.30" fill="#000" />
<rect x="558.20" y="313.30" width="3.80" height="3.10" fill="#fff" />
<rect x="563.50" y="314.30" width="7.50" height="1.20" fill="#000" />
<rect x="567.50" y="316.00" width="1.00" height="1.40" fill="#fff" />
<rect x="557.00" y="317.29" width="6.50" height="1.00" fill="#000" />
<rect x="557.00" y="319.69" width="6.50" height="5.30" fill="#000" />
<rect x="558.20" y="320.79" width="3.80" height="3.10" fill="#fff" />
<rect x="563.50" y="321.79" width="7.50" height="1.20" fill="#000" />
<rect x="567.50" y="323.49" width="1.00" height="1.40" fill="#fff" />
<rect x="557.00" y="324.78" width="6.50" height="1.00" fill="#000" />
<rect x="557.00" y="327.18" width="6.50" height="5.30" fill="#000" />
<rect x="558.20" y="328.28" width="3.80" height="3.10" fill="#fff" />
<rect x="563.50" y="329.28" width="7.50" height="1.20" fill="#000" />
<rect x="567.50" y="330.98" width="1.00" height="1.40" fill="#fff" />
<rect x="557.00" y="332.27" width="6.50" height="1.00" fill="#000" />
<rect x="557.00" y="334.67" width="6.50" height="5.30" fill="#000" />
<rect x="558.20" y="335.77" width="3.80" height="3.10" fill="#fff" />
<rect x="563.50" y="336.77" width="7.50" height="1.20" fill="#000" />
<rect x="567.50" y="338.47" width="1.00" height="1.40" fill="#fff" />
<rect x="557.00" y="339.76" width="6.50" height="1.00" fill="#000" />
<rect x="557.00" y="342.16" width="6.50" height="5.30" fill="#000" />
<rect x="558.20" y="343.26" width="3.80" height="3.10" fill="#fff" />
<rect x="563.50" y="344.26" width="7.50" height="1.20" fill="#000" />
<rect x="567.50" y="345.96" width="1.00" height="1.40" fill="#fff" />
<rect x="557.00" y="347.25" width="6.50" height="1.00" fill="#000" />
<rect x="557.00" y="349.65" width="6.50" height="5.30" fill="#000" />
<rect x="558.20" y="350.75" width="3.80" height="3.10" fill="#fff" />
<rect x="563.50" y="351.75" width="7.50" height="1.20" fill="#000" />
<rect x="567.50" y="353.45" width="1.00" height="1.40" fill="#fff" />
<rect x="557.00" y="354.74" width="6.50" height="1.00" fill="#000" />
<rect x="557.00" y="357.14" width="6.50" height="5.30" fill="#000" />
<rect x="558.20" y="358.24" width="3.80" height="3.10" fill="#fff" />
<rect x="563.50" y="359.24" width="7.50" height="1.20" fill="#000" />
<rect x="567.50" y="360.94" width="1.00" height="1.40" fill="#fff" />
<rect x="557.00" y="362.23" width="6.50" height="1.00" fill="#000" />
<rect x="557.00" y="364.63" width="6.50" height="5.30" fill="#000" />
<rect x="558.20" y="365.73" width="3.80" height="3.10" fill="#fff" />
<rect x="563.50" y="366.73" width="7.50" height="1.20" fill="#000" />
<rect x="567.50" y="368.43" width="1.00" height="1.40" fill="#fff" />
<rect x="557.00" y="369.72" width="6.50" height="1.00" fill="#000" />
<rect x="557.00" y="372.12" width="6.50" height="5.30" fill="#000" />
<rect x="558.20" y="373.22" width="3.80" height="3.10" fill="#fff" />
<rect x="563.50" y="374.22" width="7.50" height="1.20" fill="#000" />
<rect x="567.50" y="375.92" width="1.00" height="1.40" fill="#fff" />
<rect x="557.00" y="377.21" width="6.50" height="1.00" fill="#000" />
<rect x="557.00" y="379.61" width="6.50" height="5.30" fill="#000" />
<rect x="558.20" y="380.71" width="3.80" height="3.10" fill="#fff" />
<rect x="563.50" y="381.71" width="7.50" height="1.20" fill="#000" />
<rect x="567.50" y="383.41" width="1.00" height="1.40" fill="#fff" />
<rect x="557.00" y="384.70" width="6.50" height="1.00" fill="#000" />
<rect x="557.00" y="387.10" width="6.50" height="5.30" fill="#000" />
<rect x="558.20" y="388.20" width="3.80" height="3.10" fill="#fff" />
<rect x="563.50" y="389.20" width="7.50" height="1.20" fill="#000" />
<rect x="567.50" y="390.90" width="1.00" height="1.40" fill="#fff" />
<rect x="557.00" y="392.19" width="6.50" height="1.00" fill="#000" />
<rect x="588.00" y="318.00" width="32.00" height="32.00" fill="#000" />
<rect x="589.00" y="319.00" width="26.30" height="30.00" fill="#fff" />
<rect x="594" y="326" width="20" height="15" rx="3" fill="#000"/>
<rect x="596" y="328" width="16" height="11" rx="1" fill="#fff"/>
<text x="597.40" y="337.00" font-size="11.1" text-anchor="start" fill="#000" filter="url(#t)" >J3</text>
<rect x="596.00" y="361.00" width="24.00" height="29.60" fill="#000" />
<rect x="594.00" y="366.30" width="2.00" height="19.70" fill="#000" />
<rect x="615.40" y="356.80" width="4.60" height="37.20" fill="#000" />
<rect x="617.20" y="354.80" width="2.80" height="41.20" fill="#000" />
<rect x="590.00" y="368.00" width="5.00" height="6.50" fill="#000" />
<rect x="591.00" y="369.00" width="3.00" height="4.50" fill="#fff" />
<rect x="590.00" y="377.00" width="5.00" height="7.00" fill="#000" />
<rect x="591.00" y="378.00" width="3.00" height="5.00" fill="#fff" />
<rect x="595.00" y="374.50" width="1.00" height="3.00" fill="#fff" />
</svg>
</body></html>
